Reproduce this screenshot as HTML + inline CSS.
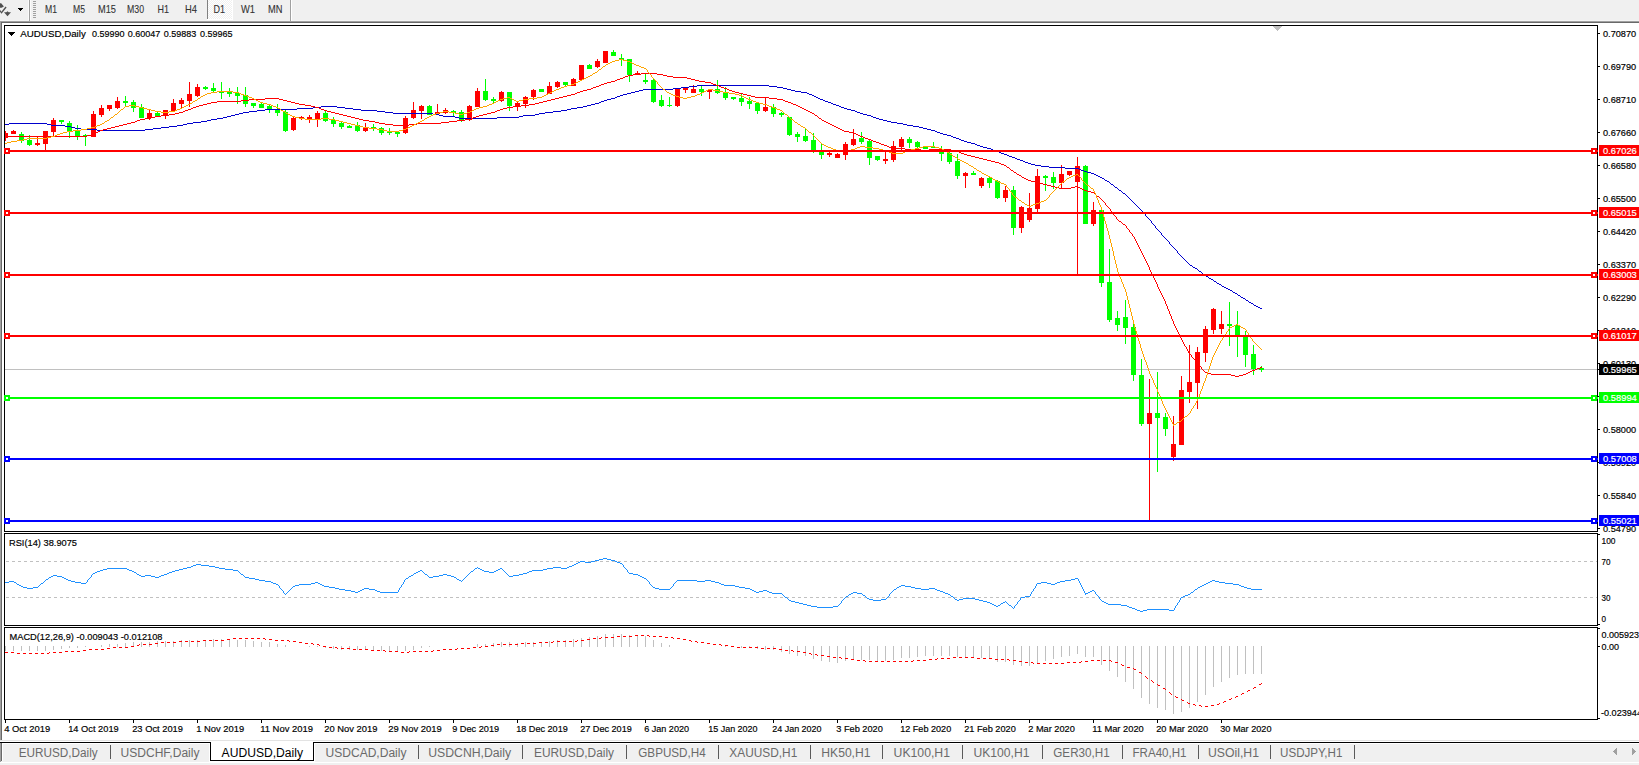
<!DOCTYPE html><html><head><meta charset="utf-8"><title>AUDUSD,Daily</title>
<style>html,body{margin:0;padding:0;background:#fff}body{width:1639px;height:765px;overflow:hidden;position:relative}svg{position:absolute;left:0;top:0;display:block}text{font-family:"Liberation Sans",sans-serif;font-size:9.7px;fill:#000;stroke:#000;stroke-width:.18px}.tb text{font-size:10.3px;fill:#333;stroke:#333;stroke-width:.1px}.tab text{font-size:12.3px;fill:#6a6a6a;stroke:none}.tab text.act{fill:#000}.w text{fill:#fff;stroke:#fff;stroke-width:.2px}</style></head><body>
<svg width="1639" height="765" viewBox="0 0 1639 765">
<g shape-rendering="crispEdges">
<rect x="0" y="0" width="1639" height="765" fill="#fff"/>
<rect x="0" y="0" width="1639" height="21" fill="#f0f0f0"/>
<rect x="0" y="20" width="1639" height="1" fill="#f4f4f4"/>
<rect x="0" y="21" width="1639" height="1" fill="#a0a0a0"/>
<rect x="0" y="22" width="1639" height="1" fill="#696969"/>
<rect x="0" y="21" width="1" height="719" fill="#a0a0a0"/>
<rect x="1" y="22" width="1" height="718" fill="#696969"/>
<rect x="28" y="0" width="1" height="20" fill="#fafafa"/>
<rect x="29" y="0" width="1" height="21" fill="#a0a0a0"/>
<rect x="30" y="0" width="1" height="20" fill="#fafafa"/>
<rect x="207" y="0" width="1" height="19" fill="#808080"/>
<rect x="290" y="0" width="1" height="21" fill="#a0a0a0"/>
<rect x="291" y="0" width="1" height="21" fill="#fff"/>
<rect x="33" y="1" width="3" height="1" fill="#a0a0a0"/>
<rect x="33" y="3" width="3" height="1" fill="#a0a0a0"/>
<rect x="33" y="5" width="3" height="1" fill="#a0a0a0"/>
<rect x="33" y="7" width="3" height="1" fill="#a0a0a0"/>
<rect x="33" y="9" width="3" height="1" fill="#a0a0a0"/>
<rect x="33" y="11" width="3" height="1" fill="#a0a0a0"/>
<rect x="33" y="13" width="3" height="1" fill="#a0a0a0"/>
<rect x="33" y="15" width="3" height="1" fill="#a0a0a0"/>
<rect x="33" y="17" width="3" height="1" fill="#a0a0a0"/>
<pattern id="ck" width="2" height="2" patternUnits="userSpaceOnUse"><rect width="2" height="2" fill="#f0f0f0"/><rect width="1" height="1" fill="#fff"/><rect x="1" y="1" width="1" height="1" fill="#fff"/></pattern>
<rect x="208" y="0" width="24" height="19" fill="url(#ck)"/>
<rect x="207" y="19" width="26" height="1" fill="#fff"/>
<rect x="232" y="0" width="1" height="20" fill="#fff"/>
<rect x="18" y="8" width="5" height="1" fill="#000"/>
<rect x="19" y="9" width="3" height="1" fill="#000"/>
<rect x="20" y="10" width="1" height="1" fill="#000"/>
</g>
<g fill="#505050"><path d="M0 3.2L1.2 3.2L3.9 6.4L1.6 7.7L0 7.7z"/><path d="M0 9.8L1.4 11.7L5.5 6.6L6.6 7.5L1.5 13.7L0 11.8z"/><path d="M4 12.2L6.3 12.2L7.5 11.3L8.7 12.2L11 12.2L7.5 16.2z"/></g>
<g shape-rendering="crispEdges">
<rect x="4" y="25" width="1594" height="1" fill="#000"/>
<rect x="4" y="531" width="1594" height="1" fill="#000"/>
<rect x="4" y="25" width="1" height="507" fill="#000"/>
<rect x="1597" y="25" width="1" height="507" fill="#000"/>
<rect x="4" y="533" width="1594" height="1" fill="#000"/>
<rect x="4" y="625" width="1594" height="1" fill="#000"/>
<rect x="4" y="533" width="1" height="93" fill="#000"/>
<rect x="1597" y="533" width="1" height="93" fill="#000"/>
<rect x="4" y="627" width="1594" height="1" fill="#000"/>
<rect x="4" y="719" width="1594" height="1" fill="#000"/>
<rect x="4" y="627" width="1" height="93" fill="#000"/>
<rect x="1597" y="627" width="1" height="93" fill="#000"/>
<rect x="1598" y="534" width="2" height="1" fill="#000"/>
<rect x="1598" y="624" width="2" height="1" fill="#000"/>
<rect x="1598" y="628" width="2" height="1" fill="#000"/>
<rect x="1598" y="718" width="2" height="1" fill="#000"/>
<rect x="1273" y="26" width="9" height="1" fill="#c0c0c0"/>
<rect x="1274" y="27" width="7" height="1" fill="#c0c0c0"/>
<rect x="1275" y="28" width="5" height="1" fill="#c0c0c0"/>
<rect x="1276" y="29" width="3" height="1" fill="#c0c0c0"/>
<rect x="1277" y="30" width="1" height="1" fill="#c0c0c0"/>
<rect x="1598" y="33" width="2" height="1" fill="#000"/>
<rect x="1598" y="66" width="2" height="1" fill="#000"/>
<rect x="1598" y="99" width="2" height="1" fill="#000"/>
<rect x="1598" y="132" width="2" height="1" fill="#000"/>
<rect x="1598" y="165" width="2" height="1" fill="#000"/>
<rect x="1598" y="198" width="2" height="1" fill="#000"/>
<rect x="1598" y="231" width="2" height="1" fill="#000"/>
<rect x="1598" y="264" width="2" height="1" fill="#000"/>
<rect x="1598" y="297" width="2" height="1" fill="#000"/>
<rect x="1598" y="330" width="2" height="1" fill="#000"/>
<rect x="1598" y="363" width="2" height="1" fill="#000"/>
<rect x="1598" y="396" width="2" height="1" fill="#000"/>
<rect x="1598" y="429" width="2" height="1" fill="#000"/>
<rect x="1598" y="462" width="2" height="1" fill="#000"/>
<rect x="1598" y="495" width="2" height="1" fill="#000"/>
<rect x="1598" y="528" width="2" height="1" fill="#000"/>
<path d="M6 561.5H1597M6 597.5H1597" stroke="#c0c0c0" stroke-width="1" stroke-dasharray="3 3" fill="none"/>
<rect x="1598" y="646" width="2" height="1" fill="#000"/>
<rect x="5" y="720" width="1" height="3" fill="#000"/>
<rect x="69" y="720" width="1" height="3" fill="#000"/>
<rect x="133" y="720" width="1" height="3" fill="#000"/>
<rect x="197" y="720" width="1" height="3" fill="#000"/>
<rect x="261" y="720" width="1" height="3" fill="#000"/>
<rect x="325" y="720" width="1" height="3" fill="#000"/>
<rect x="389" y="720" width="1" height="3" fill="#000"/>
<rect x="453" y="720" width="1" height="3" fill="#000"/>
<rect x="517" y="720" width="1" height="3" fill="#000"/>
<rect x="581" y="720" width="1" height="3" fill="#000"/>
<rect x="645" y="720" width="1" height="3" fill="#000"/>
<rect x="709" y="720" width="1" height="3" fill="#000"/>
<rect x="773" y="720" width="1" height="3" fill="#000"/>
<rect x="837" y="720" width="1" height="3" fill="#000"/>
<rect x="901" y="720" width="1" height="3" fill="#000"/>
<rect x="965" y="720" width="1" height="3" fill="#000"/>
<rect x="1029" y="720" width="1" height="3" fill="#000"/>
<rect x="1093" y="720" width="1" height="3" fill="#000"/>
<rect x="1157" y="720" width="1" height="3" fill="#000"/>
<rect x="1221" y="720" width="1" height="3" fill="#000"/>
</g>
<defs><clipPath id="c"><rect x="5" y="26" width="1592" height="505"/></clipPath></defs>
<g shape-rendering="crispEdges" clip-path="url(#c)">
<rect x="5" y="369" width="1592" height="1" fill="#c0c0c0"/>
<rect x="5" y="131" width="1" height="10" fill="#ff0000"/>
<rect x="3" y="133" width="5" height="5" fill="#ff0000"/>
<rect x="13" y="130" width="1" height="4" fill="#ff0000"/>
<rect x="11" y="131" width="5" height="3" fill="#ff0000"/>
<rect x="21" y="132" width="1" height="11" fill="#00ff00"/>
<rect x="19" y="134" width="5" height="7" fill="#00ff00"/>
<rect x="29" y="135" width="1" height="11" fill="#00ff00"/>
<rect x="27" y="140" width="5" height="5" fill="#00ff00"/>
<rect x="37" y="137" width="1" height="9" fill="#ff0000"/>
<rect x="35" y="143" width="5" height="2" fill="#ff0000"/>
<rect x="45" y="131" width="1" height="20" fill="#ff0000"/>
<rect x="43" y="131" width="5" height="13" fill="#ff0000"/>
<rect x="53" y="118" width="1" height="18" fill="#ff0000"/>
<rect x="51" y="120" width="5" height="12" fill="#ff0000"/>
<rect x="61" y="120" width="1" height="4" fill="#00ff00"/>
<rect x="59" y="120" width="5" height="2" fill="#00ff00"/>
<rect x="69" y="121" width="1" height="17" fill="#00ff00"/>
<rect x="67" y="123" width="5" height="9" fill="#00ff00"/>
<rect x="77" y="125" width="1" height="15" fill="#00ff00"/>
<rect x="75" y="131" width="5" height="5" fill="#00ff00"/>
<rect x="85" y="134" width="1" height="12" fill="#00ff00"/>
<rect x="83" y="135" width="5" height="1" fill="#00ff00"/>
<rect x="93" y="111" width="1" height="26" fill="#ff0000"/>
<rect x="91" y="114" width="5" height="23" fill="#ff0000"/>
<rect x="101" y="105" width="1" height="12" fill="#ff0000"/>
<rect x="99" y="108" width="5" height="7" fill="#ff0000"/>
<rect x="109" y="105" width="1" height="6" fill="#ff0000"/>
<rect x="107" y="105" width="5" height="4" fill="#ff0000"/>
<rect x="117" y="97" width="1" height="12" fill="#ff0000"/>
<rect x="115" y="101" width="5" height="7" fill="#ff0000"/>
<rect x="125" y="96" width="1" height="10" fill="#00ff00"/>
<rect x="123" y="101" width="5" height="2" fill="#00ff00"/>
<rect x="133" y="100" width="1" height="12" fill="#00ff00"/>
<rect x="131" y="102" width="5" height="6" fill="#00ff00"/>
<rect x="141" y="104" width="1" height="14" fill="#00ff00"/>
<rect x="139" y="107" width="5" height="11" fill="#00ff00"/>
<rect x="149" y="110" width="1" height="10" fill="#ff0000"/>
<rect x="147" y="113" width="5" height="5" fill="#ff0000"/>
<rect x="157" y="112" width="1" height="4" fill="#00ff00"/>
<rect x="155" y="113" width="5" height="3" fill="#00ff00"/>
<rect x="165" y="110" width="1" height="9" fill="#ff0000"/>
<rect x="163" y="110" width="5" height="5" fill="#ff0000"/>
<rect x="173" y="99" width="1" height="12" fill="#ff0000"/>
<rect x="171" y="103" width="5" height="8" fill="#ff0000"/>
<rect x="181" y="98" width="1" height="10" fill="#ff0000"/>
<rect x="179" y="100" width="5" height="4" fill="#ff0000"/>
<rect x="189" y="82" width="1" height="25" fill="#ff0000"/>
<rect x="187" y="94" width="5" height="7" fill="#ff0000"/>
<rect x="197" y="84" width="1" height="13" fill="#ff0000"/>
<rect x="195" y="87" width="5" height="9" fill="#ff0000"/>
<rect x="205" y="86" width="1" height="4" fill="#00ff00"/>
<rect x="203" y="87" width="5" height="2" fill="#00ff00"/>
<rect x="213" y="83" width="1" height="9" fill="#00ff00"/>
<rect x="211" y="88" width="5" height="3" fill="#00ff00"/>
<rect x="221" y="82" width="1" height="17" fill="#00ff00"/>
<rect x="219" y="91" width="5" height="2" fill="#00ff00"/>
<rect x="229" y="88" width="1" height="9" fill="#00ff00"/>
<rect x="227" y="91" width="5" height="3" fill="#00ff00"/>
<rect x="237" y="87" width="1" height="17" fill="#00ff00"/>
<rect x="235" y="93" width="5" height="3" fill="#00ff00"/>
<rect x="245" y="87" width="1" height="20" fill="#00ff00"/>
<rect x="243" y="95" width="5" height="9" fill="#00ff00"/>
<rect x="253" y="103" width="1" height="5" fill="#00ff00"/>
<rect x="251" y="103" width="5" height="3" fill="#00ff00"/>
<rect x="261" y="102" width="1" height="6" fill="#00ff00"/>
<rect x="259" y="104" width="5" height="4" fill="#00ff00"/>
<rect x="269" y="104" width="1" height="9" fill="#00ff00"/>
<rect x="267" y="106" width="5" height="3" fill="#00ff00"/>
<rect x="277" y="104" width="1" height="12" fill="#00ff00"/>
<rect x="275" y="109" width="5" height="4" fill="#00ff00"/>
<rect x="285" y="109" width="1" height="23" fill="#00ff00"/>
<rect x="283" y="112" width="5" height="19" fill="#00ff00"/>
<rect x="293" y="117" width="1" height="14" fill="#ff0000"/>
<rect x="291" y="118" width="5" height="12" fill="#ff0000"/>
<rect x="301" y="116" width="1" height="4" fill="#ff0000"/>
<rect x="299" y="117" width="5" height="2" fill="#ff0000"/>
<rect x="309" y="115" width="1" height="8" fill="#ff0000"/>
<rect x="307" y="117" width="5" height="2" fill="#ff0000"/>
<rect x="317" y="111" width="1" height="16" fill="#ff0000"/>
<rect x="315" y="113" width="5" height="6" fill="#ff0000"/>
<rect x="325" y="111" width="1" height="11" fill="#00ff00"/>
<rect x="323" y="113" width="5" height="8" fill="#00ff00"/>
<rect x="333" y="117" width="1" height="10" fill="#00ff00"/>
<rect x="331" y="120" width="5" height="4" fill="#00ff00"/>
<rect x="341" y="121" width="1" height="8" fill="#00ff00"/>
<rect x="339" y="123" width="5" height="4" fill="#00ff00"/>
<rect x="349" y="125" width="1" height="3" fill="#00ff00"/>
<rect x="347" y="126" width="5" height="2" fill="#00ff00"/>
<rect x="357" y="122" width="1" height="10" fill="#00ff00"/>
<rect x="355" y="125" width="5" height="6" fill="#00ff00"/>
<rect x="365" y="123" width="1" height="9" fill="#ff0000"/>
<rect x="363" y="127" width="5" height="4" fill="#ff0000"/>
<rect x="373" y="124" width="1" height="7" fill="#00ff00"/>
<rect x="371" y="127" width="5" height="2" fill="#00ff00"/>
<rect x="381" y="127" width="1" height="8" fill="#00ff00"/>
<rect x="379" y="128" width="5" height="5" fill="#00ff00"/>
<rect x="389" y="128" width="1" height="7" fill="#00ff00"/>
<rect x="387" y="132" width="5" height="1" fill="#00ff00"/>
<rect x="397" y="132" width="1" height="5" fill="#00ff00"/>
<rect x="395" y="132" width="5" height="2" fill="#00ff00"/>
<rect x="405" y="116" width="1" height="18" fill="#ff0000"/>
<rect x="403" y="118" width="5" height="15" fill="#ff0000"/>
<rect x="413" y="102" width="1" height="17" fill="#ff0000"/>
<rect x="411" y="110" width="5" height="8" fill="#ff0000"/>
<rect x="421" y="105" width="1" height="14" fill="#ff0000"/>
<rect x="419" y="106" width="5" height="5" fill="#ff0000"/>
<rect x="429" y="105" width="1" height="10" fill="#00ff00"/>
<rect x="427" y="106" width="5" height="9" fill="#00ff00"/>
<rect x="437" y="104" width="1" height="10" fill="#ff0000"/>
<rect x="435" y="112" width="5" height="2" fill="#ff0000"/>
<rect x="445" y="108" width="1" height="6" fill="#ff0000"/>
<rect x="443" y="110" width="5" height="3" fill="#ff0000"/>
<rect x="453" y="110" width="1" height="6" fill="#00ff00"/>
<rect x="451" y="111" width="5" height="2" fill="#00ff00"/>
<rect x="461" y="110" width="1" height="12" fill="#00ff00"/>
<rect x="459" y="112" width="5" height="8" fill="#00ff00"/>
<rect x="469" y="105" width="1" height="16" fill="#ff0000"/>
<rect x="467" y="106" width="5" height="14" fill="#ff0000"/>
<rect x="477" y="88" width="1" height="19" fill="#ff0000"/>
<rect x="475" y="91" width="5" height="16" fill="#ff0000"/>
<rect x="485" y="79" width="1" height="22" fill="#00ff00"/>
<rect x="483" y="91" width="5" height="9" fill="#00ff00"/>
<rect x="493" y="97" width="1" height="6" fill="#00ff00"/>
<rect x="491" y="99" width="5" height="2" fill="#00ff00"/>
<rect x="501" y="91" width="1" height="11" fill="#ff0000"/>
<rect x="499" y="92" width="5" height="9" fill="#ff0000"/>
<rect x="509" y="92" width="1" height="19" fill="#00ff00"/>
<rect x="507" y="92" width="5" height="14" fill="#00ff00"/>
<rect x="517" y="102" width="1" height="9" fill="#ff0000"/>
<rect x="515" y="103" width="5" height="4" fill="#ff0000"/>
<rect x="525" y="96" width="1" height="12" fill="#ff0000"/>
<rect x="523" y="97" width="5" height="7" fill="#ff0000"/>
<rect x="533" y="89" width="1" height="11" fill="#ff0000"/>
<rect x="531" y="90" width="5" height="7" fill="#ff0000"/>
<rect x="541" y="89" width="1" height="3" fill="#00ff00"/>
<rect x="539" y="89" width="5" height="3" fill="#00ff00"/>
<rect x="549" y="82" width="1" height="12" fill="#ff0000"/>
<rect x="547" y="86" width="5" height="8" fill="#ff0000"/>
<rect x="557" y="81" width="1" height="7" fill="#ff0000"/>
<rect x="555" y="82" width="5" height="5" fill="#ff0000"/>
<rect x="565" y="82" width="1" height="4" fill="#00ff00"/>
<rect x="563" y="82" width="5" height="3" fill="#00ff00"/>
<rect x="573" y="78" width="1" height="8" fill="#ff0000"/>
<rect x="571" y="79" width="5" height="7" fill="#ff0000"/>
<rect x="581" y="65" width="1" height="16" fill="#ff0000"/>
<rect x="579" y="65" width="5" height="15" fill="#ff0000"/>
<rect x="589" y="64" width="1" height="5" fill="#00ff00"/>
<rect x="587" y="65" width="5" height="4" fill="#00ff00"/>
<rect x="597" y="59" width="1" height="9" fill="#ff0000"/>
<rect x="595" y="61" width="5" height="6" fill="#ff0000"/>
<rect x="605" y="51" width="1" height="12" fill="#ff0000"/>
<rect x="603" y="51" width="5" height="12" fill="#ff0000"/>
<rect x="613" y="50" width="1" height="6" fill="#00ff00"/>
<rect x="611" y="52" width="5" height="4" fill="#00ff00"/>
<rect x="621" y="54" width="1" height="12" fill="#00ff00"/>
<rect x="619" y="58" width="5" height="2" fill="#00ff00"/>
<rect x="629" y="59" width="1" height="23" fill="#00ff00"/>
<rect x="627" y="59" width="5" height="16" fill="#00ff00"/>
<rect x="637" y="71" width="1" height="4" fill="#ff0000"/>
<rect x="635" y="73" width="5" height="2" fill="#ff0000"/>
<rect x="645" y="73" width="1" height="11" fill="#00ff00"/>
<rect x="643" y="80" width="5" height="2" fill="#00ff00"/>
<rect x="653" y="79" width="1" height="24" fill="#00ff00"/>
<rect x="651" y="80" width="5" height="22" fill="#00ff00"/>
<rect x="661" y="95" width="1" height="12" fill="#00ff00"/>
<rect x="659" y="100" width="5" height="6" fill="#00ff00"/>
<rect x="669" y="97" width="1" height="10" fill="#00ff00"/>
<rect x="667" y="105" width="5" height="1" fill="#00ff00"/>
<rect x="677" y="89" width="1" height="18" fill="#ff0000"/>
<rect x="675" y="89" width="5" height="17" fill="#ff0000"/>
<rect x="685" y="88" width="1" height="5" fill="#ff0000"/>
<rect x="683" y="88" width="5" height="2" fill="#ff0000"/>
<rect x="693" y="85" width="1" height="8" fill="#ff0000"/>
<rect x="691" y="89" width="5" height="4" fill="#ff0000"/>
<rect x="701" y="86" width="1" height="10" fill="#00ff00"/>
<rect x="699" y="89" width="5" height="3" fill="#00ff00"/>
<rect x="709" y="90" width="1" height="9" fill="#ff0000"/>
<rect x="707" y="90" width="5" height="2" fill="#ff0000"/>
<rect x="717" y="80" width="1" height="14" fill="#00ff00"/>
<rect x="715" y="89" width="5" height="4" fill="#00ff00"/>
<rect x="725" y="87" width="1" height="13" fill="#00ff00"/>
<rect x="723" y="92" width="5" height="6" fill="#00ff00"/>
<rect x="733" y="97" width="1" height="3" fill="#00ff00"/>
<rect x="731" y="97" width="5" height="2" fill="#00ff00"/>
<rect x="741" y="94" width="1" height="12" fill="#00ff00"/>
<rect x="739" y="98" width="5" height="4" fill="#00ff00"/>
<rect x="749" y="97" width="1" height="12" fill="#00ff00"/>
<rect x="747" y="101" width="5" height="3" fill="#00ff00"/>
<rect x="757" y="102" width="1" height="12" fill="#00ff00"/>
<rect x="755" y="103" width="5" height="8" fill="#00ff00"/>
<rect x="765" y="97" width="1" height="15" fill="#ff0000"/>
<rect x="763" y="107" width="5" height="4" fill="#ff0000"/>
<rect x="773" y="104" width="1" height="13" fill="#00ff00"/>
<rect x="771" y="107" width="5" height="7" fill="#00ff00"/>
<rect x="781" y="112" width="1" height="5" fill="#00ff00"/>
<rect x="779" y="113" width="5" height="2" fill="#00ff00"/>
<rect x="789" y="117" width="1" height="19" fill="#00ff00"/>
<rect x="787" y="117" width="5" height="18" fill="#00ff00"/>
<rect x="797" y="132" width="1" height="10" fill="#00ff00"/>
<rect x="795" y="134" width="5" height="3" fill="#00ff00"/>
<rect x="805" y="129" width="1" height="13" fill="#00ff00"/>
<rect x="803" y="136" width="5" height="5" fill="#00ff00"/>
<rect x="813" y="133" width="1" height="20" fill="#00ff00"/>
<rect x="811" y="140" width="5" height="11" fill="#00ff00"/>
<rect x="821" y="144" width="1" height="15" fill="#00ff00"/>
<rect x="819" y="151" width="5" height="4" fill="#00ff00"/>
<rect x="829" y="152" width="1" height="5" fill="#ff0000"/>
<rect x="827" y="153" width="5" height="2" fill="#ff0000"/>
<rect x="837" y="153" width="1" height="5" fill="#ff0000"/>
<rect x="835" y="154" width="5" height="4" fill="#ff0000"/>
<rect x="845" y="142" width="1" height="18" fill="#ff0000"/>
<rect x="843" y="144" width="5" height="11" fill="#ff0000"/>
<rect x="853" y="129" width="1" height="17" fill="#ff0000"/>
<rect x="851" y="139" width="5" height="6" fill="#ff0000"/>
<rect x="861" y="132" width="1" height="12" fill="#00ff00"/>
<rect x="859" y="138" width="5" height="4" fill="#00ff00"/>
<rect x="869" y="139" width="1" height="26" fill="#00ff00"/>
<rect x="867" y="141" width="5" height="17" fill="#00ff00"/>
<rect x="877" y="156" width="1" height="5" fill="#00ff00"/>
<rect x="875" y="156" width="5" height="4" fill="#00ff00"/>
<rect x="885" y="152" width="1" height="12" fill="#ff0000"/>
<rect x="883" y="159" width="5" height="2" fill="#ff0000"/>
<rect x="893" y="141" width="1" height="21" fill="#ff0000"/>
<rect x="891" y="146" width="5" height="14" fill="#ff0000"/>
<rect x="901" y="137" width="1" height="13" fill="#ff0000"/>
<rect x="899" y="139" width="5" height="8" fill="#ff0000"/>
<rect x="909" y="137" width="1" height="11" fill="#00ff00"/>
<rect x="907" y="139" width="5" height="4" fill="#00ff00"/>
<rect x="917" y="141" width="1" height="8" fill="#00ff00"/>
<rect x="915" y="142" width="5" height="5" fill="#00ff00"/>
<rect x="925" y="146" width="1" height="3" fill="#00ff00"/>
<rect x="923" y="147" width="5" height="2" fill="#00ff00"/>
<rect x="933" y="142" width="1" height="6" fill="#00ff00"/>
<rect x="931" y="147" width="5" height="1" fill="#00ff00"/>
<rect x="941" y="146" width="1" height="15" fill="#00ff00"/>
<rect x="939" y="149" width="5" height="5" fill="#00ff00"/>
<rect x="949" y="152" width="1" height="12" fill="#00ff00"/>
<rect x="947" y="153" width="5" height="9" fill="#00ff00"/>
<rect x="957" y="154" width="1" height="25" fill="#00ff00"/>
<rect x="955" y="161" width="5" height="15" fill="#00ff00"/>
<rect x="965" y="172" width="1" height="16" fill="#ff0000"/>
<rect x="963" y="173" width="5" height="3" fill="#ff0000"/>
<rect x="973" y="171" width="1" height="4" fill="#00ff00"/>
<rect x="971" y="173" width="5" height="2" fill="#00ff00"/>
<rect x="981" y="177" width="1" height="11" fill="#ff0000"/>
<rect x="979" y="178" width="5" height="8" fill="#ff0000"/>
<rect x="989" y="177" width="1" height="11" fill="#00ff00"/>
<rect x="987" y="178" width="5" height="5" fill="#00ff00"/>
<rect x="997" y="180" width="1" height="19" fill="#00ff00"/>
<rect x="995" y="181" width="5" height="17" fill="#00ff00"/>
<rect x="1005" y="186" width="1" height="16" fill="#ff0000"/>
<rect x="1003" y="190" width="5" height="8" fill="#ff0000"/>
<rect x="1013" y="186" width="1" height="49" fill="#00ff00"/>
<rect x="1011" y="190" width="5" height="38" fill="#00ff00"/>
<rect x="1021" y="206" width="1" height="27" fill="#ff0000"/>
<rect x="1019" y="207" width="5" height="21" fill="#ff0000"/>
<rect x="1029" y="193" width="1" height="29" fill="#ff0000"/>
<rect x="1027" y="208" width="5" height="12" fill="#ff0000"/>
<rect x="1037" y="169" width="1" height="43" fill="#ff0000"/>
<rect x="1035" y="176" width="5" height="33" fill="#ff0000"/>
<rect x="1045" y="175" width="1" height="16" fill="#00ff00"/>
<rect x="1043" y="176" width="5" height="2" fill="#00ff00"/>
<rect x="1053" y="172" width="1" height="17" fill="#00ff00"/>
<rect x="1051" y="177" width="5" height="6" fill="#00ff00"/>
<rect x="1061" y="165" width="1" height="24" fill="#ff0000"/>
<rect x="1059" y="174" width="5" height="9" fill="#ff0000"/>
<rect x="1069" y="171" width="1" height="5" fill="#ff0000"/>
<rect x="1067" y="171" width="5" height="4" fill="#ff0000"/>
<rect x="1077" y="157" width="1" height="117" fill="#ff0000"/>
<rect x="1075" y="166" width="5" height="16" fill="#ff0000"/>
<rect x="1085" y="165" width="1" height="59" fill="#00ff00"/>
<rect x="1083" y="166" width="5" height="58" fill="#00ff00"/>
<rect x="1093" y="202" width="1" height="24" fill="#ff0000"/>
<rect x="1091" y="210" width="5" height="14" fill="#ff0000"/>
<rect x="1101" y="207" width="1" height="80" fill="#00ff00"/>
<rect x="1099" y="210" width="5" height="73" fill="#00ff00"/>
<rect x="1109" y="249" width="1" height="73" fill="#00ff00"/>
<rect x="1107" y="282" width="5" height="38" fill="#00ff00"/>
<rect x="1117" y="311" width="1" height="20" fill="#00ff00"/>
<rect x="1115" y="318" width="5" height="7" fill="#00ff00"/>
<rect x="1125" y="300" width="1" height="44" fill="#00ff00"/>
<rect x="1123" y="317" width="5" height="11" fill="#00ff00"/>
<rect x="1133" y="322" width="1" height="59" fill="#00ff00"/>
<rect x="1131" y="327" width="5" height="48" fill="#00ff00"/>
<rect x="1141" y="359" width="1" height="67" fill="#00ff00"/>
<rect x="1139" y="375" width="5" height="49" fill="#00ff00"/>
<rect x="1149" y="379" width="1" height="142" fill="#ff0000"/>
<rect x="1147" y="413" width="5" height="11" fill="#ff0000"/>
<rect x="1157" y="372" width="1" height="100" fill="#00ff00"/>
<rect x="1155" y="413" width="5" height="5" fill="#00ff00"/>
<rect x="1165" y="413" width="1" height="23" fill="#00ff00"/>
<rect x="1163" y="417" width="5" height="12" fill="#00ff00"/>
<rect x="1173" y="416" width="1" height="45" fill="#ff0000"/>
<rect x="1171" y="444" width="5" height="13" fill="#ff0000"/>
<rect x="1181" y="376" width="1" height="69" fill="#ff0000"/>
<rect x="1179" y="390" width="5" height="55" fill="#ff0000"/>
<rect x="1189" y="345" width="1" height="58" fill="#ff0000"/>
<rect x="1187" y="382" width="5" height="10" fill="#ff0000"/>
<rect x="1197" y="347" width="1" height="62" fill="#ff0000"/>
<rect x="1195" y="352" width="5" height="31" fill="#ff0000"/>
<rect x="1205" y="326" width="1" height="36" fill="#ff0000"/>
<rect x="1203" y="329" width="5" height="24" fill="#ff0000"/>
<rect x="1213" y="308" width="1" height="26" fill="#ff0000"/>
<rect x="1211" y="309" width="5" height="21" fill="#ff0000"/>
<rect x="1221" y="311" width="1" height="23" fill="#ff0000"/>
<rect x="1219" y="324" width="5" height="5" fill="#ff0000"/>
<rect x="1229" y="302" width="1" height="44" fill="#00ff00"/>
<rect x="1227" y="324" width="5" height="2" fill="#00ff00"/>
<rect x="1237" y="311" width="1" height="46" fill="#00ff00"/>
<rect x="1235" y="325" width="5" height="12" fill="#00ff00"/>
<rect x="1245" y="331" width="1" height="36" fill="#00ff00"/>
<rect x="1243" y="335" width="5" height="20" fill="#00ff00"/>
<rect x="1253" y="345" width="1" height="30" fill="#00ff00"/>
<rect x="1251" y="354" width="5" height="15" fill="#00ff00"/>
<rect x="1261" y="366" width="1" height="6" fill="#00ff00"/>
<rect x="1259" y="368" width="5" height="2" fill="#00ff00"/>
<path d="M5 124h4v1h-4zM9 123h38v1h-38zM47 124h4v1h-4zM51 125h14v1h-14zM65 126h6v1h-6zM71 127h4v1h-4zM75 128h6v1h-6zM81 129h16v1h-16zM97 130h48v1h-48zM145 129h8v1h-8zM153 128h8v1h-8zM161 127h8v1h-8zM169 126h8v1h-8zM177 125h6v1h-6zM183 124h4v1h-4zM187 123h6v1h-6zM193 122h8v1h-8zM201 121h6v1h-6zM207 120h4v1h-4zM211 119h6v1h-6zM217 118h6v1h-6zM223 117h4v1h-4zM227 116h4v1h-4zM231 115h4v1h-4zM235 114h4v1h-4zM239 113h4v1h-4zM243 112h6v1h-6zM249 111h8v1h-8zM257 110h8v1h-8zM265 109h32v1h-32zM297 108h16v1h-16zM313 107h8v1h-8zM321 106h16v1h-16zM337 107h8v1h-8zM345 108h8v1h-8zM353 109h8v1h-8zM361 110h16v1h-16zM377 111h8v1h-8zM385 112h8v1h-8zM393 113h40v1h-40zM433 114h6v1h-6zM439 115h4v1h-4zM443 116h12v1h-12zM455 117h4v1h-4zM459 118h38v1h-38zM497 117h22v1h-22zM519 116h4v1h-4zM523 115h12v1h-12zM535 114h4v1h-4zM539 113h6v1h-6zM545 112h8v1h-8zM553 111h8v1h-8zM561 110h6v1h-6zM567 109h4v1h-4zM571 108h6v1h-6zM577 107h6v1h-6zM583 106h4v1h-4zM587 105h4v1h-4zM591 104h4v1h-4zM595 103h4v1h-4zM599 102h2v1h-2zM601 101h3v1h-3zM604 100h3v1h-3zM607 99h4v1h-4zM611 98h4v1h-4zM615 97h2v1h-2zM617 96h3v1h-3zM620 95h3v1h-3zM623 94h4v1h-4zM627 93h4v1h-4zM631 92h4v1h-4zM635 91h4v1h-4zM639 90h4v1h-4zM643 89h30v1h-30zM673 88h8v1h-8zM681 87h8v1h-8zM689 86h8v1h-8zM697 85h72v1h-72zM769 86h8v1h-8zM777 87h6v1h-6zM783 88h4v1h-4zM787 89h4v1h-4zM791 90h4v1h-4zM795 91h6v1h-6zM801 92h6v1h-6zM807 93h2v1h-2zM809 94h3v1h-3zM812 95h2v1h-2zM814 96h2v1h-2zM816 97h2v1h-2zM818 98h2v1h-2zM820 99h3v1h-3zM823 100h2v1h-2zM825 101h3v1h-3zM828 102h3v1h-3zM831 103h2v1h-2zM833 104h3v1h-3zM836 105h3v1h-3zM839 106h2v1h-2zM841 107h3v1h-3zM844 108h3v1h-3zM847 109h4v1h-4zM851 110h4v1h-4zM855 111h2v1h-2zM857 112h3v1h-3zM860 113h3v1h-3zM863 114h4v1h-4zM867 115h4v1h-4zM871 116h2v1h-2zM873 117h3v1h-3zM876 118h3v1h-3zM879 119h4v1h-4zM883 120h4v1h-4zM887 121h4v1h-4zM891 122h6v1h-6zM897 123h6v1h-6zM903 124h4v1h-4zM907 125h6v1h-6zM913 126h6v1h-6zM919 127h4v1h-4zM923 128h4v1h-4zM927 129h4v1h-4zM931 130h4v1h-4zM935 131h2v1h-2zM937 132h3v1h-3zM940 133h3v1h-3zM943 134h4v1h-4zM947 135h4v1h-4zM951 136h2v1h-2zM953 137h3v1h-3zM956 138h3v1h-3zM959 139h2v1h-2zM961 140h3v1h-3zM964 141h3v1h-3zM967 142h4v1h-4zM971 143h4v1h-4zM975 144h2v1h-2zM977 145h3v1h-3zM980 146h3v1h-3zM983 147h4v1h-4zM987 148h4v1h-4zM991 149h2v1h-2zM993 150h3v1h-3zM996 151h3v1h-3zM999 152h2v1h-2zM1001 153h3v1h-3zM1004 154h3v1h-3zM1007 155h2v1h-2zM1009 156h3v1h-3zM1012 157h3v1h-3zM1015 158h2v1h-2zM1017 159h3v1h-3zM1020 160h3v1h-3zM1023 161h2v1h-2zM1025 162h3v1h-3zM1028 163h3v1h-3zM1031 164h4v1h-4zM1035 165h6v1h-6zM1041 166h8v1h-8zM1049 167h16v1h-16zM1065 168h14v1h-14zM1079 169h2v1h-2zM1081 170h3v1h-3zM1084 171h3v1h-3zM1087 172h4v1h-4zM1091 173h3v1h-3zM1094 174h2v1h-2zM1096 175h2v1h-2zM1098 176h2v1h-2zM1100 177h2v1h-2zM1102 178h2v1h-2zM1104 179h1v1h-1zM1105 180h2v1h-2zM1107 181h2v1h-2zM1109 182h1v1h-1zM1110 183h1v1h-1zM1111 184h2v1h-2zM1113 185h1v1h-1zM1114 186h1v1h-1zM1115 187h2v1h-2zM1117 188h1v1h-1zM1118 189h1v1h-1zM1119 190h2v1h-2zM1121 191h1v1h-1zM1122 192h1v1h-1zM1123 193h2v1h-2zM1125 194h1v1h-1zM1126 195h1v1h-1zM1127 196h1v1h-1zM1128 197h1v1h-1zM1129 198h1v1h-1zM1130 199h1v1h-1zM1131 200h1v1h-1zM1132 201h1v1h-1zM1133 202h1v1h-1zM1134 203h1v1h-1zM1135 204h1v1h-1zM1136 205h1v1h-1zM1137 206h1v1h-1zM1138 207h1v1h-1zM1139 208h1v1h-1zM1140 209h1v1h-1zM1141 210h1v1h-1zM1142 211h1v1h-1zM1143 212h1v1h-1zM1144 213h1v1h-1zM1145 214h1v1h-1zM1145 215h1v1h-1zM1146 216h1v1h-1zM1147 217h1v1h-1zM1148 218h1v1h-1zM1149 219h1v1h-1zM1150 220h1v1h-1zM1151 221h1v1h-1zM1151 222h1v1h-1zM1152 223h1v1h-1zM1153 224h1v1h-1zM1154 225h1v1h-1zM1155 226h1v1h-1zM1155 227h1v1h-1zM1156 228h1v1h-1zM1157 229h1v1h-1zM1158 230h1v1h-1zM1159 231h1v1h-1zM1160 232h1v1h-1zM1161 233h1v1h-1zM1161 234h1v1h-1zM1162 235h1v1h-1zM1163 236h1v1h-1zM1164 237h1v1h-1zM1165 238h1v1h-1zM1166 239h1v1h-1zM1167 240h1v1h-1zM1168 241h1v1h-1zM1169 242h1v1h-1zM1169 243h1v1h-1zM1170 244h1v1h-1zM1171 245h1v1h-1zM1172 246h1v1h-1zM1173 247h1v1h-1zM1174 248h1v1h-1zM1175 249h1v1h-1zM1176 250h1v1h-1zM1177 251h1v1h-1zM1177 252h1v1h-1zM1178 253h1v1h-1zM1179 254h1v1h-1zM1180 255h1v1h-1zM1181 256h1v1h-1zM1182 257h1v1h-1zM1183 258h1v1h-1zM1184 259h1v1h-1zM1185 260h1v1h-1zM1186 261h1v1h-1zM1187 262h1v1h-1zM1188 263h1v1h-1zM1189 264h1v1h-1zM1190 265h2v1h-2zM1192 266h1v1h-1zM1193 267h2v1h-2zM1195 268h2v1h-2zM1197 269h1v1h-1zM1198 270h1v1h-1zM1199 271h2v1h-2zM1201 272h1v1h-1zM1202 273h1v1h-1zM1203 274h2v1h-2zM1205 275h1v1h-1zM1206 276h2v1h-2zM1208 277h1v1h-1zM1209 278h2v1h-2zM1211 279h2v1h-2zM1213 280h1v1h-1zM1214 281h2v1h-2zM1216 282h1v1h-1zM1217 283h2v1h-2zM1219 284h2v1h-2zM1221 285h1v1h-1zM1222 286h2v1h-2zM1224 287h2v1h-2zM1226 288h2v1h-2zM1228 289h2v1h-2zM1230 290h2v1h-2zM1232 291h1v1h-1zM1233 292h2v1h-2zM1235 293h2v1h-2zM1237 294h1v1h-1zM1238 295h2v1h-2zM1240 296h1v1h-1zM1241 297h2v1h-2zM1243 298h2v1h-2zM1245 299h1v1h-1zM1246 300h2v1h-2zM1248 301h1v1h-1zM1249 302h2v1h-2zM1251 303h2v1h-2zM1253 304h1v1h-1zM1254 305h2v1h-2zM1256 306h2v1h-2zM1258 307h2v1h-2zM1260 308h2v1h-2z" fill="#0000cd"/>
<path d="M5 136h82v1h-82zM87 135h4v1h-4zM91 134h3v1h-3zM94 133h2v1h-2zM96 132h2v1h-2zM98 131h2v1h-2zM100 130h3v1h-3zM103 129h4v1h-4zM107 128h4v1h-4zM111 127h4v1h-4zM115 126h4v1h-4zM119 125h4v1h-4zM123 124h4v1h-4zM127 123h4v1h-4zM131 122h4v1h-4zM135 121h2v1h-2zM137 120h3v1h-3zM140 119h5v1h-5zM145 118h6v1h-6zM151 117h4v1h-4zM155 116h6v1h-6zM161 115h8v1h-8zM169 114h6v1h-6zM175 113h4v1h-4zM179 112h4v1h-4zM183 111h2v1h-2zM185 110h3v1h-3zM188 109h3v1h-3zM191 108h2v1h-2zM193 107h3v1h-3zM196 106h3v1h-3zM199 105h4v1h-4zM203 104h4v1h-4zM207 103h4v1h-4zM211 102h6v1h-6zM217 101h24v1h-24zM241 100h8v1h-8zM249 99h16v1h-16zM265 98h14v1h-14zM279 99h4v1h-4zM283 100h4v1h-4zM287 101h4v1h-4zM291 102h4v1h-4zM295 103h4v1h-4zM299 104h6v1h-6zM305 105h6v1h-6zM311 106h4v1h-4zM315 107h4v1h-4zM319 108h2v1h-2zM321 109h3v1h-3zM324 110h3v1h-3zM327 111h4v1h-4zM331 112h4v1h-4zM335 113h4v1h-4zM339 114h4v1h-4zM343 115h4v1h-4zM347 116h4v1h-4zM351 117h4v1h-4zM355 118h4v1h-4zM359 119h4v1h-4zM363 120h6v1h-6zM369 121h6v1h-6zM375 122h4v1h-4zM379 123h6v1h-6zM385 124h8v1h-8zM393 125h16v1h-16zM409 124h8v1h-8zM417 123h24v1h-24zM441 122h8v1h-8zM449 121h8v1h-8zM457 120h8v1h-8zM465 119h6v1h-6zM471 118h2v1h-2zM473 117h3v1h-3zM476 116h3v1h-3zM479 115h4v1h-4zM483 114h4v1h-4zM487 113h4v1h-4zM491 112h4v1h-4zM495 111h2v1h-2zM497 110h3v1h-3zM500 109h3v1h-3zM503 108h4v1h-4zM507 107h6v1h-6zM513 106h8v1h-8zM521 105h8v1h-8zM529 104h6v1h-6zM535 103h4v1h-4zM539 102h4v1h-4zM543 101h4v1h-4zM547 100h4v1h-4zM551 99h4v1h-4zM555 98h4v1h-4zM559 97h4v1h-4zM563 96h4v1h-4zM567 95h4v1h-4zM571 94h4v1h-4zM575 93h2v1h-2zM577 92h3v1h-3zM580 91h3v1h-3zM583 90h4v1h-4zM587 89h4v1h-4zM591 88h2v1h-2zM593 87h3v1h-3zM596 86h3v1h-3zM599 85h2v1h-2zM601 84h3v1h-3zM604 83h3v1h-3zM607 82h4v1h-4zM611 81h4v1h-4zM615 80h2v1h-2zM617 79h3v1h-3zM620 78h3v1h-3zM623 77h2v1h-2zM625 76h3v1h-3zM628 75h5v1h-5zM633 74h8v1h-8zM641 73h16v1h-16zM657 74h6v1h-6zM663 75h4v1h-4zM667 76h6v1h-6zM673 77h14v1h-14zM687 78h4v1h-4zM691 79h4v1h-4zM695 80h4v1h-4zM699 81h6v1h-6zM705 82h6v1h-6zM711 83h2v1h-2zM713 84h3v1h-3zM716 85h3v1h-3zM719 86h2v1h-2zM721 87h3v1h-3zM724 88h3v1h-3zM727 89h2v1h-2zM729 90h3v1h-3zM732 91h3v1h-3zM735 92h4v1h-4zM739 93h4v1h-4zM743 94h4v1h-4zM747 95h4v1h-4zM751 96h4v1h-4zM755 97h14v1h-14zM769 98h8v1h-8zM777 99h6v1h-6zM783 100h2v1h-2zM785 101h3v1h-3zM788 102h3v1h-3zM791 103h2v1h-2zM793 104h3v1h-3zM796 105h2v1h-2zM798 106h2v1h-2zM800 107h2v1h-2zM802 108h2v1h-2zM804 109h2v1h-2zM806 110h2v1h-2zM808 111h2v1h-2zM810 112h2v1h-2zM812 113h2v1h-2zM814 114h1v1h-1zM815 115h2v1h-2zM817 116h1v1h-1zM818 117h1v1h-1zM819 118h2v1h-2zM821 119h1v1h-1zM822 120h2v1h-2zM824 121h2v1h-2zM826 122h2v1h-2zM828 123h2v1h-2zM830 124h2v1h-2zM832 125h2v1h-2zM834 126h2v1h-2zM836 127h2v1h-2zM838 128h2v1h-2zM840 129h2v1h-2zM842 130h2v1h-2zM844 131h5v1h-5zM849 132h5v1h-5zM854 133h2v1h-2zM856 134h2v1h-2zM858 135h2v1h-2zM860 136h3v1h-3zM863 137h2v1h-2zM865 138h3v1h-3zM868 139h3v1h-3zM871 140h2v1h-2zM873 141h3v1h-3zM876 142h3v1h-3zM879 143h2v1h-2zM881 144h3v1h-3zM884 145h3v1h-3zM887 146h2v1h-2zM889 147h3v1h-3zM892 148h13v1h-13zM905 149h16v1h-16zM921 150h8v1h-8zM929 149h22v1h-22zM951 150h4v1h-4zM955 151h4v1h-4zM959 152h2v1h-2zM961 153h3v1h-3zM964 154h3v1h-3zM967 155h4v1h-4zM971 156h4v1h-4zM975 157h4v1h-4zM979 158h4v1h-4zM983 159h4v1h-4zM987 160h4v1h-4zM991 161h4v1h-4zM995 162h4v1h-4zM999 163h2v1h-2zM1001 164h3v1h-3zM1004 165h2v1h-2zM1006 166h1v1h-1zM1007 167h2v1h-2zM1009 168h1v1h-1zM1010 169h1v1h-1zM1011 170h2v1h-2zM1013 171h1v1h-1zM1014 172h2v1h-2zM1016 173h1v1h-1zM1017 174h2v1h-2zM1019 175h2v1h-2zM1021 176h1v1h-1zM1022 177h2v1h-2zM1024 178h2v1h-2zM1026 179h2v1h-2zM1028 180h3v1h-3zM1031 181h4v1h-4zM1035 182h4v1h-4zM1039 183h4v1h-4zM1043 184h4v1h-4zM1047 185h4v1h-4zM1051 186h4v1h-4zM1055 187h4v1h-4zM1059 188h12v1h-12zM1071 187h4v1h-4zM1075 186h3v1h-3zM1078 187h2v1h-2zM1080 188h2v1h-2zM1082 189h2v1h-2zM1084 190h3v1h-3zM1087 191h4v1h-4zM1091 192h3v1h-3zM1094 193h1v1h-1zM1095 194h1v1h-1zM1096 195h1v1h-1zM1097 196h2v1h-2zM1099 197h1v1h-1zM1100 198h1v1h-1zM1101 199h1v1h-1zM1102 200h1v1h-1zM1103 201h1v1h-1zM1104 202h1v1h-1zM1105 203h1v1h-1zM1105 204h1v1h-1zM1106 205h1v1h-1zM1107 206h1v1h-1zM1108 207h1v1h-1zM1109 208h1v1h-1zM1110 209h1v1h-1zM1110 210h1v1h-1zM1111 211h1v1h-1zM1112 212h1v1h-1zM1113 213h1v1h-1zM1113 214h1v1h-1zM1114 215h1v1h-1zM1115 216h1v1h-1zM1116 217h1v1h-1zM1116 218h1v1h-1zM1117 219h1v1h-1zM1118 220h1v1h-1zM1119 221h2v1h-2zM1121 222h1v1h-1zM1122 223h1v1h-1zM1123 224h2v1h-2zM1125 225h1v1h-1zM1126 226h1v1h-1zM1126 227h1v1h-1zM1127 228h1v1h-1zM1128 229h1v1h-1zM1129 230h1v1h-1zM1129 231h1v1h-1zM1130 232h1v1h-1zM1131 233h1v1h-1zM1132 234h1v1h-1zM1132 235h1v1h-1zM1133 236h1v1h-1zM1134 237h1v1h-1zM1134 238h1v1h-1zM1135 239h1v1h-1zM1135 240h1v1h-1zM1136 241h1v1h-1zM1136 242h1v1h-1zM1137 243h1v1h-1zM1137 244h1v1h-1zM1138 245h1v1h-1zM1138 246h1v1h-1zM1139 247h1v1h-1zM1139 248h1v1h-1zM1140 249h1v1h-1zM1140 250h1v1h-1zM1141 251h1v1h-1zM1141 252h1v1h-1zM1142 253h1v1h-1zM1142 254h1v1h-1zM1143 255h1v1h-1zM1143 256h1v1h-1zM1144 257h1v1h-1zM1144 258h1v1h-1zM1145 259h1v1h-1zM1145 260h1v1h-1zM1146 261h1v1h-1zM1146 262h1v1h-1zM1147 263h1v1h-1zM1147 264h1v1h-1zM1148 265h1v1h-1zM1148 266h1v1h-1zM1149 267h1v1h-1zM1149 268h1v1h-1zM1149 269h1v1h-1zM1150 270h1v1h-1zM1150 271h1v1h-1zM1151 272h1v1h-1zM1151 273h1v1h-1zM1152 274h1v1h-1zM1152 275h1v1h-1zM1153 276h1v1h-1zM1153 277h1v1h-1zM1154 278h1v1h-1zM1154 279h1v1h-1zM1155 280h1v1h-1zM1155 281h1v1h-1zM1156 282h1v1h-1zM1156 283h1v1h-1zM1157 284h1v1h-1zM1157 285h1v1h-1zM1157 286h1v1h-1zM1158 287h1v1h-1zM1158 288h1v1h-1zM1159 289h1v1h-1zM1159 290h1v1h-1zM1160 291h1v1h-1zM1160 292h1v1h-1zM1161 293h1v1h-1zM1161 294h1v1h-1zM1162 295h1v1h-1zM1162 296h1v1h-1zM1163 297h1v1h-1zM1163 298h1v1h-1zM1164 299h1v1h-1zM1164 300h1v1h-1zM1165 301h1v1h-1zM1165 302h1v1h-1zM1165 303h1v1h-1zM1166 304h1v1h-1zM1166 305h1v1h-1zM1167 306h1v1h-1zM1167 307h1v1h-1zM1167 308h1v1h-1zM1168 309h1v1h-1zM1168 310h1v1h-1zM1169 311h1v1h-1zM1169 312h1v1h-1zM1169 313h1v1h-1zM1170 314h1v1h-1zM1170 315h1v1h-1zM1171 316h1v1h-1zM1171 317h1v1h-1zM1171 318h1v1h-1zM1172 319h1v1h-1zM1172 320h1v1h-1zM1173 321h1v1h-1zM1173 322h1v1h-1zM1173 323h1v1h-1zM1174 324h1v1h-1zM1174 325h1v1h-1zM1175 326h1v1h-1zM1175 327h1v1h-1zM1176 328h1v1h-1zM1176 329h1v1h-1zM1177 330h1v1h-1zM1177 331h1v1h-1zM1178 332h1v1h-1zM1178 333h1v1h-1zM1179 334h1v1h-1zM1179 335h1v1h-1zM1180 336h1v1h-1zM1180 337h1v1h-1zM1181 338h1v1h-1zM1181 339h1v1h-1zM1182 340h1v1h-1zM1182 341h1v1h-1zM1183 342h1v1h-1zM1183 343h1v1h-1zM1184 344h1v1h-1zM1184 345h1v1h-1zM1185 346h1v1h-1zM1186 347h1v1h-1zM1186 348h1v1h-1zM1187 349h1v1h-1zM1187 350h1v1h-1zM1188 351h1v1h-1zM1188 352h1v1h-1zM1189 353h1v1h-1zM1190 354h1v1h-1zM1191 355h1v1h-1zM1191 356h1v1h-1zM1192 357h1v1h-1zM1193 358h1v1h-1zM1194 359h1v1h-1zM1195 360h1v1h-1zM1195 361h1v1h-1zM1196 362h1v1h-1zM1197 363h1v1h-1zM1198 364h1v1h-1zM1199 365h1v1h-1zM1200 366h1v1h-1zM1201 367h1v1h-1zM1201 368h1v1h-1zM1202 369h1v1h-1zM1203 370h1v1h-1zM1204 371h1v1h-1zM1205 372h2v1h-2zM1207 373h4v1h-4zM1211 374h20v1h-20zM1231 375h4v1h-4zM1235 376h4v1h-4zM1239 375h4v1h-4zM1243 374h3v1h-3zM1246 373h2v1h-2zM1248 372h2v1h-2zM1250 371h2v1h-2zM1252 370h3v1h-3zM1255 369h2v1h-2zM1257 368h3v1h-3zM1260 367h2v1h-2z" fill="#ff0000"/>
<path d="M5 143h2v1h-2zM7 142h4v1h-4zM11 141h6v1h-6zM17 140h6v1h-6zM23 139h4v1h-4zM27 138h20v1h-20zM47 137h4v1h-4zM51 136h4v1h-4zM55 135h2v1h-2zM57 134h3v1h-3zM60 133h3v1h-3zM63 132h4v1h-4zM67 131h6v1h-6zM73 130h8v1h-8zM81 129h6v1h-6zM87 128h4v1h-4zM91 127h4v1h-4zM95 126h2v1h-2zM97 125h3v1h-3zM100 124h2v1h-2zM102 123h2v1h-2zM104 122h1v1h-1zM105 121h2v1h-2zM107 120h2v1h-2zM109 119h1v1h-1zM110 118h1v1h-1zM111 117h2v1h-2zM113 116h1v1h-1zM114 115h1v1h-1zM115 114h2v1h-2zM117 113h1v1h-1zM118 112h1v1h-1zM119 111h1v1h-1zM120 110h1v1h-1zM121 109h2v1h-2zM123 108h1v1h-1zM124 107h1v1h-1zM125 106h4v1h-4zM129 105h6v1h-6zM135 106h4v1h-4zM139 107h4v1h-4zM143 108h4v1h-4zM147 109h4v1h-4zM151 110h4v1h-4zM155 111h6v1h-6zM161 112h8v1h-8zM169 111h6v1h-6zM175 110h2v1h-2zM177 109h3v1h-3zM180 108h2v1h-2zM182 107h2v1h-2zM184 106h2v1h-2zM186 105h2v1h-2zM188 104h2v1h-2zM190 103h2v1h-2zM192 102h1v1h-1zM193 101h2v1h-2zM195 100h2v1h-2zM197 99h1v1h-1zM198 98h2v1h-2zM200 97h1v1h-1zM201 96h2v1h-2zM203 95h2v1h-2zM205 94h2v1h-2zM207 93h4v1h-4zM211 92h6v1h-6zM217 91h16v1h-16zM233 92h6v1h-6zM239 93h2v1h-2zM241 94h3v1h-3zM244 95h3v1h-3zM247 96h2v1h-2zM249 97h3v1h-3zM252 98h2v1h-2zM254 99h2v1h-2zM256 100h2v1h-2zM258 101h2v1h-2zM260 102h3v1h-3zM263 103h4v1h-4zM267 104h4v1h-4zM271 105h2v1h-2zM273 106h3v1h-3zM276 107h2v1h-2zM278 108h2v1h-2zM280 109h1v1h-1zM281 110h2v1h-2zM283 111h2v1h-2zM285 112h1v1h-1zM286 113h2v1h-2zM288 114h2v1h-2zM290 115h2v1h-2zM292 116h3v1h-3zM295 117h4v1h-4zM299 118h6v1h-6zM305 119h16v1h-16zM321 118h8v1h-8zM329 119h6v1h-6zM335 120h4v1h-4zM339 121h4v1h-4zM343 122h4v1h-4zM347 123h4v1h-4zM351 124h4v1h-4zM355 125h4v1h-4zM359 126h4v1h-4zM363 127h6v1h-6zM369 128h8v1h-8zM377 129h6v1h-6zM383 130h4v1h-4zM387 131h12v1h-12zM399 130h4v1h-4zM403 129h3v1h-3zM406 128h2v1h-2zM408 127h2v1h-2zM410 126h2v1h-2zM412 125h2v1h-2zM414 124h2v1h-2zM416 123h2v1h-2zM418 122h2v1h-2zM420 121h2v1h-2zM422 120h2v1h-2zM424 119h1v1h-1zM425 118h2v1h-2zM427 117h2v1h-2zM429 116h2v1h-2zM431 115h2v1h-2zM433 114h3v1h-3zM436 113h3v1h-3zM439 112h4v1h-4zM443 111h6v1h-6zM449 112h6v1h-6zM455 113h4v1h-4zM459 114h4v1h-4zM463 113h4v1h-4zM467 112h3v1h-3zM470 111h2v1h-2zM472 110h2v1h-2zM474 109h2v1h-2zM476 108h3v1h-3zM479 107h4v1h-4zM483 106h4v1h-4zM487 105h2v1h-2zM489 104h3v1h-3zM492 103h2v1h-2zM494 102h2v1h-2zM496 101h2v1h-2zM498 100h2v1h-2zM500 99h3v1h-3zM503 98h4v1h-4zM507 97h3v1h-3zM510 98h2v1h-2zM512 99h2v1h-2zM514 100h2v1h-2zM516 101h3v1h-3zM519 100h4v1h-4zM523 99h6v1h-6zM529 98h8v1h-8zM537 97h5v1h-5zM542 96h2v1h-2zM544 95h2v1h-2zM546 94h2v1h-2zM548 93h2v1h-2zM550 92h2v1h-2zM552 91h2v1h-2zM554 90h2v1h-2zM556 89h3v1h-3zM559 88h2v1h-2zM561 87h3v1h-3zM564 86h3v1h-3zM567 85h4v1h-4zM571 84h3v1h-3zM574 83h2v1h-2zM576 82h2v1h-2zM578 81h2v1h-2zM580 80h2v1h-2zM582 79h2v1h-2zM584 78h2v1h-2zM586 77h2v1h-2zM588 76h2v1h-2zM590 75h2v1h-2zM592 74h1v1h-1zM593 73h2v1h-2zM595 72h2v1h-2zM597 71h1v1h-1zM598 70h1v1h-1zM599 69h2v1h-2zM601 68h1v1h-1zM602 67h1v1h-1zM603 66h2v1h-2zM605 65h1v1h-1zM606 64h2v1h-2zM608 63h2v1h-2zM610 62h2v1h-2zM612 61h3v1h-3zM615 60h4v1h-4zM619 59h4v1h-4zM623 60h4v1h-4zM627 61h3v1h-3zM630 62h2v1h-2zM632 63h2v1h-2zM634 64h2v1h-2zM636 65h3v1h-3zM639 66h2v1h-2zM641 67h3v1h-3zM644 68h2v1h-2zM646 69h1v1h-1zM647 70h1v1h-1zM647 71h1v1h-1zM648 72h1v1h-1zM649 73h1v1h-1zM650 74h1v1h-1zM651 75h1v1h-1zM651 76h1v1h-1zM652 77h1v1h-1zM653 78h1v1h-1zM654 79h1v1h-1zM655 80h1v1h-1zM656 81h1v1h-1zM657 82h1v1h-1zM657 83h1v1h-1zM658 84h1v1h-1zM659 85h1v1h-1zM660 86h1v1h-1zM661 87h1v1h-1zM662 88h1v1h-1zM663 89h2v1h-2zM665 90h1v1h-1zM666 91h1v1h-1zM667 92h2v1h-2zM669 93h2v1h-2zM671 94h2v1h-2zM673 95h3v1h-3zM676 96h3v1h-3zM679 97h4v1h-4zM683 98h4v1h-4zM687 97h4v1h-4zM691 96h4v1h-4zM695 95h2v1h-2zM697 94h3v1h-3zM700 93h2v1h-2zM702 92h2v1h-2zM704 91h2v1h-2zM706 90h2v1h-2zM708 89h5v1h-5zM713 90h6v1h-6zM719 91h4v1h-4zM723 92h6v1h-6zM729 93h6v1h-6zM735 94h4v1h-4zM739 95h3v1h-3zM742 96h2v1h-2zM744 97h2v1h-2zM746 98h2v1h-2zM748 99h3v1h-3zM751 100h2v1h-2zM753 101h3v1h-3zM756 102h3v1h-3zM759 103h4v1h-4zM763 104h4v1h-4zM767 105h2v1h-2zM769 106h3v1h-3zM772 107h3v1h-3zM775 108h2v1h-2zM777 109h3v1h-3zM780 110h2v1h-2zM782 111h1v1h-1zM783 112h1v1h-1zM784 113h1v1h-1zM785 114h2v1h-2zM787 115h1v1h-1zM788 116h1v1h-1zM789 117h1v1h-1zM790 118h1v1h-1zM791 119h2v1h-2zM793 120h1v1h-1zM794 121h1v1h-1zM795 122h2v1h-2zM797 123h1v1h-1zM798 124h2v1h-2zM800 125h1v1h-1zM801 126h2v1h-2zM803 127h2v1h-2zM805 128h1v1h-1zM806 129h1v1h-1zM807 130h1v1h-1zM808 131h1v1h-1zM809 132h2v1h-2zM811 133h1v1h-1zM812 134h1v1h-1zM813 135h1v1h-1zM814 136h1v1h-1zM815 137h1v1h-1zM816 138h1v1h-1zM817 139h1v1h-1zM818 140h1v1h-1zM819 141h1v1h-1zM820 142h1v1h-1zM821 143h1v1h-1zM822 144h2v1h-2zM824 145h2v1h-2zM826 146h2v1h-2zM828 147h3v1h-3zM831 148h2v1h-2zM833 149h3v1h-3zM836 150h5v1h-5zM841 151h6v1h-6zM847 150h4v1h-4zM851 149h4v1h-4zM855 148h2v1h-2zM857 147h3v1h-3zM860 146h5v1h-5zM865 147h8v1h-8zM873 148h6v1h-6zM879 149h4v1h-4zM883 150h4v1h-4zM887 151h2v1h-2zM889 152h3v1h-3zM892 153h11v1h-11zM903 152h2v1h-2zM905 151h3v1h-3zM908 150h3v1h-3zM911 149h4v1h-4zM915 148h4v1h-4zM919 147h4v1h-4zM923 146h12v1h-12zM935 147h4v1h-4zM939 148h3v1h-3zM942 149h2v1h-2zM944 150h1v1h-1zM945 151h2v1h-2zM947 152h2v1h-2zM949 153h1v1h-1zM950 154h2v1h-2zM952 155h1v1h-1zM953 156h2v1h-2zM955 157h2v1h-2zM957 158h1v1h-1zM958 159h2v1h-2zM960 160h2v1h-2zM962 161h2v1h-2zM964 162h2v1h-2zM966 163h2v1h-2zM968 164h1v1h-1zM969 165h2v1h-2zM971 166h2v1h-2zM973 167h1v1h-1zM974 168h2v1h-2zM976 169h1v1h-1zM977 170h2v1h-2zM979 171h2v1h-2zM981 172h1v1h-1zM982 173h2v1h-2zM984 174h2v1h-2zM986 175h2v1h-2zM988 176h2v1h-2zM990 177h2v1h-2zM992 178h1v1h-1zM993 179h2v1h-2zM995 180h2v1h-2zM997 181h2v1h-2zM999 182h2v1h-2zM1001 183h3v1h-3zM1004 184h2v1h-2zM1006 185h1v1h-1zM1006 186h1v1h-1zM1007 187h1v1h-1zM1008 188h1v1h-1zM1009 189h1v1h-1zM1009 190h1v1h-1zM1010 191h1v1h-1zM1011 192h1v1h-1zM1012 193h1v1h-1zM1012 194h1v1h-1zM1013 195h1v1h-1zM1014 196h1v1h-1zM1015 197h2v1h-2zM1017 198h1v1h-1zM1018 199h1v1h-1zM1019 200h2v1h-2zM1021 201h1v1h-1zM1022 202h2v1h-2zM1024 203h1v1h-1zM1025 204h2v1h-2zM1027 205h2v1h-2zM1029 206h2v1h-2zM1031 205h2v1h-2zM1033 204h3v1h-3zM1036 203h3v1h-3zM1039 202h2v1h-2zM1041 201h3v1h-3zM1044 200h2v1h-2zM1046 199h1v1h-1zM1047 198h1v1h-1zM1048 197h1v1h-1zM1049 195h1v1h-1zM1049 196h1v1h-1zM1050 194h1v1h-1zM1051 193h1v1h-1zM1052 192h1v1h-1zM1053 191h1v1h-1zM1054 190h1v1h-1zM1055 189h1v1h-1zM1056 188h1v1h-1zM1057 187h1v1h-1zM1058 186h1v1h-1zM1059 185h1v1h-1zM1060 184h1v1h-1zM1061 183h1v1h-1zM1062 182h1v1h-1zM1063 181h2v1h-2zM1065 180h1v1h-1zM1066 179h1v1h-1zM1067 178h2v1h-2zM1069 177h2v1h-2zM1071 176h2v1h-2zM1073 175h3v1h-3zM1076 174h2v1h-2zM1078 175h1v1h-1zM1079 176h1v1h-1zM1080 177h1v1h-1zM1081 178h1v1h-1zM1081 179h1v1h-1zM1082 180h1v1h-1zM1083 181h1v1h-1zM1084 182h1v1h-1zM1085 183h1v1h-1zM1086 184h1v1h-1zM1087 185h2v1h-2zM1089 186h1v1h-1zM1090 187h1v1h-1zM1091 188h2v1h-2zM1093 189h1v1h-1zM1093 190h1v1h-1zM1094 191h1v1h-1zM1094 192h1v1h-1zM1095 193h1v1h-1zM1095 194h1v1h-1zM1096 195h1v1h-1zM1096 196h1v1h-1zM1096 197h1v1h-1zM1097 198h1v1h-1zM1097 199h1v1h-1zM1098 200h1v1h-1zM1098 201h1v1h-1zM1098 202h1v1h-1zM1099 203h1v1h-1zM1099 204h1v1h-1zM1100 205h1v1h-1zM1100 206h1v1h-1zM1101 207h1v1h-1zM1101 208h1v1h-1zM1101 209h1v1h-1zM1102 210h1v1h-1zM1102 211h1v1h-1zM1102 212h1v1h-1zM1102 213h1v1h-1zM1103 214h1v1h-1zM1103 215h1v1h-1zM1103 216h1v1h-1zM1104 217h1v1h-1zM1104 218h1v1h-1zM1104 219h1v1h-1zM1104 220h1v1h-1zM1105 221h1v1h-1zM1105 222h1v1h-1zM1105 223h1v1h-1zM1106 224h1v1h-1zM1106 225h1v1h-1zM1106 226h1v1h-1zM1106 227h1v1h-1zM1107 228h1v1h-1zM1107 229h1v1h-1zM1107 230h1v1h-1zM1108 231h1v1h-1zM1108 232h1v1h-1zM1108 233h1v1h-1zM1108 234h1v1h-1zM1109 235h1v1h-1zM1109 236h1v1h-1zM1109 237h1v1h-1zM1109 238h1v1h-1zM1110 239h1v1h-1zM1110 240h1v1h-1zM1110 241h1v1h-1zM1110 242h1v1h-1zM1111 243h1v1h-1zM1111 244h1v1h-1zM1111 245h1v1h-1zM1111 246h1v1h-1zM1112 247h1v1h-1zM1112 248h1v1h-1zM1112 249h1v1h-1zM1112 250h1v1h-1zM1113 251h1v1h-1zM1113 252h1v1h-1zM1113 253h1v1h-1zM1113 254h1v1h-1zM1113 255h1v1h-1zM1114 256h1v1h-1zM1114 257h1v1h-1zM1114 258h1v1h-1zM1114 259h1v1h-1zM1115 260h1v1h-1zM1115 261h1v1h-1zM1115 262h1v1h-1zM1115 263h1v1h-1zM1116 264h1v1h-1zM1116 265h1v1h-1zM1116 266h1v1h-1zM1116 267h1v1h-1zM1117 268h1v1h-1zM1117 269h1v1h-1zM1117 270h1v1h-1zM1117 271h1v1h-1zM1118 272h1v1h-1zM1118 273h1v1h-1zM1119 274h1v1h-1zM1119 275h1v1h-1zM1119 276h1v1h-1zM1120 277h1v1h-1zM1120 278h1v1h-1zM1121 279h1v1h-1zM1121 280h1v1h-1zM1121 281h1v1h-1zM1122 282h1v1h-1zM1122 283h1v1h-1zM1123 284h1v1h-1zM1123 285h1v1h-1zM1123 286h1v1h-1zM1124 287h1v1h-1zM1124 288h1v1h-1zM1125 289h1v1h-1zM1125 290h1v1h-1zM1125 291h1v1h-1zM1126 292h1v1h-1zM1126 293h1v1h-1zM1126 294h1v1h-1zM1126 295h1v1h-1zM1127 296h1v1h-1zM1127 297h1v1h-1zM1127 298h1v1h-1zM1127 299h1v1h-1zM1128 300h1v1h-1zM1128 301h1v1h-1zM1128 302h1v1h-1zM1128 303h1v1h-1zM1129 304h1v1h-1zM1129 305h1v1h-1zM1129 306h1v1h-1zM1129 307h1v1h-1zM1130 308h1v1h-1zM1130 309h1v1h-1zM1130 310h1v1h-1zM1130 311h1v1h-1zM1131 312h1v1h-1zM1131 313h1v1h-1zM1131 314h1v1h-1zM1131 315h1v1h-1zM1132 316h1v1h-1zM1132 317h1v1h-1zM1132 318h1v1h-1zM1132 319h1v1h-1zM1133 320h1v1h-1zM1133 321h1v1h-1zM1133 322h1v1h-1zM1133 323h1v1h-1zM1134 324h1v1h-1zM1134 325h1v1h-1zM1134 326h1v1h-1zM1134 327h1v1h-1zM1135 328h1v1h-1zM1135 329h1v1h-1zM1135 330h1v1h-1zM1136 331h1v1h-1zM1136 332h1v1h-1zM1136 333h1v1h-1zM1137 334h1v1h-1zM1137 335h1v1h-1zM1137 336h1v1h-1zM1137 337h1v1h-1zM1138 338h1v1h-1zM1138 339h1v1h-1zM1138 340h1v1h-1zM1139 341h1v1h-1zM1139 342h1v1h-1zM1139 343h1v1h-1zM1140 344h1v1h-1zM1140 345h1v1h-1zM1140 346h1v1h-1zM1140 347h1v1h-1zM1141 348h1v1h-1zM1141 349h1v1h-1zM1141 350h1v1h-1zM1142 351h1v1h-1zM1142 352h1v1h-1zM1142 353h1v1h-1zM1143 354h1v1h-1zM1143 355h1v1h-1zM1143 356h1v1h-1zM1144 357h1v1h-1zM1144 358h1v1h-1zM1144 359h1v1h-1zM1145 360h1v1h-1zM1145 361h1v1h-1zM1146 362h1v1h-1zM1146 363h1v1h-1zM1146 364h1v1h-1zM1147 365h1v1h-1zM1147 366h1v1h-1zM1147 367h1v1h-1zM1148 368h1v1h-1zM1148 369h1v1h-1zM1148 370h1v1h-1zM1149 371h1v1h-1zM1149 372h1v1h-1zM1149 373h1v1h-1zM1150 374h1v1h-1zM1150 375h1v1h-1zM1151 376h1v1h-1zM1151 377h1v1h-1zM1152 378h1v1h-1zM1152 379h1v1h-1zM1153 380h1v1h-1zM1153 381h1v1h-1zM1153 382h1v1h-1zM1154 383h1v1h-1zM1154 384h1v1h-1zM1155 385h1v1h-1zM1155 386h1v1h-1zM1156 387h1v1h-1zM1156 388h1v1h-1zM1157 389h1v1h-1zM1157 390h1v1h-1zM1157 391h1v1h-1zM1158 392h1v1h-1zM1158 393h1v1h-1zM1159 394h1v1h-1zM1159 395h1v1h-1zM1160 396h1v1h-1zM1160 397h1v1h-1zM1160 398h1v1h-1zM1161 399h1v1h-1zM1161 400h1v1h-1zM1162 401h1v1h-1zM1162 402h1v1h-1zM1162 403h1v1h-1zM1163 404h1v1h-1zM1163 405h1v1h-1zM1164 406h1v1h-1zM1164 407h1v1h-1zM1165 408h1v1h-1zM1165 409h1v1h-1zM1166 410h1v1h-1zM1166 411h1v1h-1zM1167 412h1v1h-1zM1167 413h1v1h-1zM1168 414h1v1h-1zM1168 415h1v1h-1zM1169 416h1v1h-1zM1169 417h1v1h-1zM1170 418h1v1h-1zM1170 419h1v1h-1zM1171 420h1v1h-1zM1171 421h1v1h-1zM1172 422h1v1h-1zM1172 423h1v1h-1zM1173 424h3v1h-3zM1173 425h1v1h-1zM1176 423h1v1h-1zM1177 422h2v1h-2zM1179 421h2v1h-2zM1181 420h1v1h-1zM1182 419h1v1h-1zM1183 418h1v1h-1zM1184 417h1v1h-1zM1185 416h2v1h-2zM1187 415h1v1h-1zM1188 414h1v1h-1zM1189 413h1v1h-1zM1190 411h1v1h-1zM1190 412h1v1h-1zM1191 409h1v1h-1zM1191 410h1v1h-1zM1192 408h1v1h-1zM1193 406h1v1h-1zM1193 407h1v1h-1zM1194 405h1v1h-1zM1195 403h1v1h-1zM1195 404h1v1h-1zM1196 401h1v1h-1zM1196 402h1v1h-1zM1197 399h1v1h-1zM1197 400h1v1h-1zM1198 397h1v1h-1zM1198 398h1v1h-1zM1199 394h1v1h-1zM1199 395h1v1h-1zM1199 396h1v1h-1zM1200 391h1v1h-1zM1200 392h1v1h-1zM1200 393h1v1h-1zM1201 389h1v1h-1zM1201 390h1v1h-1zM1202 386h1v1h-1zM1202 387h1v1h-1zM1202 388h1v1h-1zM1203 383h1v1h-1zM1203 384h1v1h-1zM1203 385h1v1h-1zM1204 381h1v1h-1zM1204 382h1v1h-1zM1205 378h1v1h-1zM1205 379h1v1h-1zM1205 380h1v1h-1zM1206 375h1v1h-1zM1206 376h1v1h-1zM1206 377h1v1h-1zM1207 372h1v1h-1zM1207 373h1v1h-1zM1207 374h1v1h-1zM1208 369h1v1h-1zM1208 370h1v1h-1zM1208 371h1v1h-1zM1209 366h1v1h-1zM1209 367h1v1h-1zM1209 368h1v1h-1zM1210 363h1v1h-1zM1210 364h1v1h-1zM1210 365h1v1h-1zM1211 360h1v1h-1zM1211 361h1v1h-1zM1211 362h1v1h-1zM1212 357h1v1h-1zM1212 358h1v1h-1zM1212 359h1v1h-1zM1213 355h1v1h-1zM1213 356h1v1h-1zM1214 353h1v1h-1zM1214 354h1v1h-1zM1215 351h1v1h-1zM1215 352h1v1h-1zM1216 349h1v1h-1zM1216 350h1v1h-1zM1217 347h1v1h-1zM1217 348h1v1h-1zM1218 345h1v1h-1zM1218 346h1v1h-1zM1219 343h1v1h-1zM1219 344h1v1h-1zM1220 341h1v1h-1zM1220 342h1v1h-1zM1221 340h1v1h-1zM1222 338h1v1h-1zM1222 339h1v1h-1zM1223 337h1v1h-1zM1224 335h1v1h-1zM1224 336h1v1h-1zM1225 334h1v1h-1zM1226 332h1v1h-1zM1226 333h1v1h-1zM1227 331h1v1h-1zM1228 329h1v1h-1zM1228 330h1v1h-1zM1229 328h1v1h-1zM1230 327h2v1h-2zM1232 326h2v1h-2zM1234 325h2v1h-2zM1236 324h2v1h-2zM1238 325h2v1h-2zM1240 326h1v1h-1zM1241 327h2v1h-2zM1243 328h2v1h-2zM1245 329h1v1h-1zM1246 330h1v1h-1zM1246 331h1v1h-1zM1247 332h1v1h-1zM1248 333h1v1h-1zM1248 334h1v1h-1zM1249 335h1v1h-1zM1250 336h1v1h-1zM1250 337h1v1h-1zM1251 338h1v1h-1zM1252 339h1v1h-1zM1252 340h1v1h-1zM1253 341h1v1h-1zM1254 342h1v1h-1zM1255 343h1v1h-1zM1256 344h1v1h-1zM1257 345h1v1h-1zM1258 346h1v1h-1zM1259 347h1v1h-1zM1260 348h1v1h-1zM1261 349h1v1h-1z" fill="#ffa500"/>
<rect x="4" y="150" width="1594" height="2" fill="#ff0000"/>
<rect x="4" y="212" width="1594" height="2" fill="#ff0000"/>
<rect x="4" y="274" width="1594" height="2" fill="#ff0000"/>
<rect x="4" y="335" width="1594" height="2" fill="#ff0000"/>
<rect x="4" y="397" width="1594" height="2" fill="#00ff00"/>
<rect x="4" y="458" width="1594" height="2" fill="#0000ff"/>
<rect x="4" y="520" width="1594" height="2" fill="#0000ff"/>
</g>
<g shape-rendering="crispEdges">
<rect x="4" y="148" width="6" height="6" fill="#ff0000"/>
<rect x="6" y="150" width="2" height="2" fill="#fff"/>
<rect x="1591" y="148" width="6" height="6" fill="#ff0000"/>
<rect x="1593" y="150" width="2" height="2" fill="#fff"/>
<rect x="1597" y="150" width="1" height="2" fill="#ff0000"/>
<rect x="1599" y="145" width="40" height="11" fill="#ff0000"/>
<rect x="4" y="210" width="6" height="6" fill="#ff0000"/>
<rect x="6" y="212" width="2" height="2" fill="#fff"/>
<rect x="1591" y="210" width="6" height="6" fill="#ff0000"/>
<rect x="1593" y="212" width="2" height="2" fill="#fff"/>
<rect x="1597" y="212" width="1" height="2" fill="#ff0000"/>
<rect x="1599" y="207" width="40" height="11" fill="#ff0000"/>
<rect x="4" y="272" width="6" height="6" fill="#ff0000"/>
<rect x="6" y="274" width="2" height="2" fill="#fff"/>
<rect x="1591" y="272" width="6" height="6" fill="#ff0000"/>
<rect x="1593" y="274" width="2" height="2" fill="#fff"/>
<rect x="1597" y="274" width="1" height="2" fill="#ff0000"/>
<rect x="1599" y="269" width="40" height="11" fill="#ff0000"/>
<rect x="4" y="333" width="6" height="6" fill="#ff0000"/>
<rect x="6" y="335" width="2" height="2" fill="#fff"/>
<rect x="1591" y="333" width="6" height="6" fill="#ff0000"/>
<rect x="1593" y="335" width="2" height="2" fill="#fff"/>
<rect x="1597" y="335" width="1" height="2" fill="#ff0000"/>
<rect x="1599" y="330" width="40" height="11" fill="#ff0000"/>
<rect x="4" y="395" width="6" height="6" fill="#00ff00"/>
<rect x="6" y="397" width="2" height="2" fill="#fff"/>
<rect x="1591" y="395" width="6" height="6" fill="#00ff00"/>
<rect x="1593" y="397" width="2" height="2" fill="#fff"/>
<rect x="1597" y="397" width="1" height="2" fill="#00ff00"/>
<rect x="1599" y="392" width="40" height="11" fill="#00ff00"/>
<rect x="4" y="456" width="6" height="6" fill="#0000ff"/>
<rect x="6" y="458" width="2" height="2" fill="#fff"/>
<rect x="1591" y="456" width="6" height="6" fill="#0000ff"/>
<rect x="1593" y="458" width="2" height="2" fill="#fff"/>
<rect x="1597" y="458" width="1" height="2" fill="#0000ff"/>
<rect x="1599" y="453" width="40" height="11" fill="#0000ff"/>
<rect x="4" y="518" width="6" height="6" fill="#0000ff"/>
<rect x="6" y="520" width="2" height="2" fill="#fff"/>
<rect x="1591" y="518" width="6" height="6" fill="#0000ff"/>
<rect x="1593" y="520" width="2" height="2" fill="#fff"/>
<rect x="1597" y="520" width="1" height="2" fill="#0000ff"/>
<rect x="1599" y="515" width="40" height="11" fill="#0000ff"/>
<rect x="1598" y="369" width="2" height="1" fill="#000"/>
<rect x="1599" y="364" width="40" height="11" fill="#000"/>
<path d="M5 582h4v1h-4zM9 581h5v1h-5zM14 582h2v1h-2zM16 583h1v1h-1zM17 584h2v1h-2zM19 585h2v1h-2zM21 586h2v1h-2zM23 587h4v1h-4zM27 588h6v1h-6zM33 587h5v1h-5zM38 586h1v1h-1zM39 585h1v1h-1zM40 584h1v1h-1zM41 583h2v1h-2zM43 582h1v1h-1zM44 581h1v1h-1zM45 580h1v1h-1zM46 579h2v1h-2zM48 578h1v1h-1zM49 577h2v1h-2zM51 576h2v1h-2zM53 575h4v1h-4zM57 576h5v1h-5zM62 577h2v1h-2zM64 578h2v1h-2zM66 579h2v1h-2zM68 580h3v1h-3zM71 581h4v1h-4zM75 582h6v1h-6zM81 583h5v1h-5zM86 582h1v1h-1zM87 580h1v1h-1zM87 581h1v1h-1zM88 579h1v1h-1zM89 578h1v1h-1zM90 577h1v1h-1zM91 575h1v1h-1zM91 576h1v1h-1zM92 574h1v1h-1zM93 573h2v1h-2zM95 572h2v1h-2zM97 571h3v1h-3zM100 570h3v1h-3zM103 569h4v1h-4zM107 568h20v1h-20zM127 569h2v1h-2zM129 570h3v1h-3zM132 571h2v1h-2zM134 572h2v1h-2zM136 573h1v1h-1zM137 574h2v1h-2zM139 575h2v1h-2zM141 576h4v1h-4zM145 575h6v1h-6zM151 576h4v1h-4zM155 577h4v1h-4zM159 576h2v1h-2zM161 575h3v1h-3zM164 574h3v1h-3zM167 573h2v1h-2zM169 572h3v1h-3zM172 571h3v1h-3zM175 570h4v1h-4zM179 569h4v1h-4zM183 568h4v1h-4zM187 567h4v1h-4zM191 566h2v1h-2zM193 565h3v1h-3zM196 564h5v1h-5zM201 565h8v1h-8zM209 566h6v1h-6zM215 567h4v1h-4zM219 568h6v1h-6zM225 569h8v1h-8zM233 570h5v1h-5zM238 571h1v1h-1zM239 572h1v1h-1zM240 573h1v1h-1zM241 574h2v1h-2zM243 575h1v1h-1zM244 576h1v1h-1zM245 577h4v1h-4zM249 578h6v1h-6zM255 579h4v1h-4zM259 580h6v1h-6zM265 581h6v1h-6zM271 582h2v1h-2zM273 583h3v1h-3zM276 584h2v1h-2zM278 585h1v1h-1zM279 586h1v1h-1zM279 587h1v1h-1zM280 588h1v1h-1zM281 589h1v1h-1zM282 590h1v1h-1zM283 591h1v1h-1zM283 592h1v1h-1zM284 593h1v1h-1zM285 594h1v1h-1zM286 593h1v1h-1zM287 592h1v1h-1zM288 591h1v1h-1zM289 590h1v1h-1zM290 589h1v1h-1zM291 588h1v1h-1zM292 587h1v1h-1zM293 586h2v1h-2zM295 585h4v1h-4zM299 584h12v1h-12zM311 583h4v1h-4zM315 582h3v1h-3zM318 583h2v1h-2zM320 584h2v1h-2zM322 585h2v1h-2zM324 586h5v1h-5zM329 587h6v1h-6zM335 588h4v1h-4zM339 589h6v1h-6zM345 590h6v1h-6zM351 591h4v1h-4zM355 592h3v1h-3zM358 591h2v1h-2zM360 590h2v1h-2zM362 589h2v1h-2zM364 588h5v1h-5zM369 589h6v1h-6zM375 590h2v1h-2zM377 591h3v1h-3zM380 592h18v1h-18zM398 590h1v1h-1zM398 591h1v1h-1zM399 588h1v1h-1zM399 589h1v1h-1zM400 587h1v1h-1zM401 585h1v1h-1zM401 586h1v1h-1zM402 584h1v1h-1zM403 582h1v1h-1zM403 583h1v1h-1zM404 580h1v1h-1zM404 581h1v1h-1zM405 579h1v1h-1zM406 578h2v1h-2zM408 577h1v1h-1zM409 576h2v1h-2zM411 575h2v1h-2zM413 574h1v1h-1zM414 573h2v1h-2zM416 572h2v1h-2zM418 571h2v1h-2zM420 570h2v1h-2zM422 571h1v1h-1zM423 572h1v1h-1zM424 573h1v1h-1zM425 574h2v1h-2zM427 575h1v1h-1zM428 576h1v1h-1zM429 577h4v1h-4zM433 576h6v1h-6zM439 575h4v1h-4zM443 574h4v1h-4zM447 575h4v1h-4zM451 576h3v1h-3zM454 577h2v1h-2zM456 578h1v1h-1zM457 579h2v1h-2zM459 580h2v1h-2zM461 581h1v1h-1zM462 580h1v1h-1zM463 579h1v1h-1zM464 578h1v1h-1zM465 577h1v1h-1zM466 576h1v1h-1zM467 575h1v1h-1zM468 574h1v1h-1zM469 573h1v1h-1zM470 572h1v1h-1zM471 571h2v1h-2zM473 570h1v1h-1zM474 569h1v1h-1zM475 568h2v1h-2zM477 567h1v1h-1zM478 568h2v1h-2zM480 569h2v1h-2zM482 570h2v1h-2zM484 571h5v1h-5zM489 572h5v1h-5zM494 571h2v1h-2zM496 570h2v1h-2zM498 569h2v1h-2zM500 568h2v1h-2zM502 569h1v1h-1zM503 570h1v1h-1zM504 571h1v1h-1zM505 572h1v1h-1zM506 573h1v1h-1zM507 574h1v1h-1zM508 575h1v1h-1zM509 576h4v1h-4zM513 575h6v1h-6zM519 574h4v1h-4zM523 573h4v1h-4zM527 572h2v1h-2zM529 571h3v1h-3zM532 570h11v1h-11zM543 569h4v1h-4zM547 568h6v1h-6zM553 567h8v1h-8zM561 568h6v1h-6zM567 567h2v1h-2zM569 566h3v1h-3zM572 565h2v1h-2zM574 564h2v1h-2zM576 563h2v1h-2zM578 562h2v1h-2zM580 561h5v1h-5zM585 562h6v1h-6zM591 561h4v1h-4zM595 560h4v1h-4zM599 559h4v1h-4zM603 558h4v1h-4zM607 559h4v1h-4zM611 560h4v1h-4zM615 561h2v1h-2zM617 562h3v1h-3zM620 563h2v1h-2zM622 564h1v1h-1zM623 565h1v1h-1zM623 566h1v1h-1zM624 567h1v1h-1zM625 568h1v1h-1zM626 569h1v1h-1zM627 570h1v1h-1zM627 571h1v1h-1zM628 572h1v1h-1zM629 573h4v1h-4zM633 574h5v1h-5zM638 575h2v1h-2zM640 576h2v1h-2zM642 577h2v1h-2zM644 578h2v1h-2zM646 579h1v1h-1zM647 580h1v1h-1zM648 581h1v1h-1zM649 582h1v1h-1zM649 583h1v1h-1zM650 584h1v1h-1zM651 585h1v1h-1zM652 586h1v1h-1zM653 587h2v1h-2zM655 588h4v1h-4zM659 589h11v1h-11zM670 588h1v1h-1zM671 587h1v1h-1zM672 586h1v1h-1zM673 584h1v1h-1zM673 585h1v1h-1zM674 583h1v1h-1zM675 582h1v1h-1zM676 581h1v1h-1zM677 580h20v1h-20zM697 581h8v1h-8zM705 580h6v1h-6zM711 581h4v1h-4zM715 582h4v1h-4zM719 583h2v1h-2zM721 584h3v1h-3zM724 585h11v1h-11zM735 586h4v1h-4zM739 587h6v1h-6zM745 588h5v1h-5zM750 589h2v1h-2zM752 590h2v1h-2zM754 591h2v1h-2zM756 592h3v1h-3zM759 591h4v1h-4zM763 590h4v1h-4zM767 591h2v1h-2zM769 592h3v1h-3zM772 593h10v1h-10zM782 594h1v1h-1zM783 595h1v1h-1zM784 596h1v1h-1zM785 597h2v1h-2zM787 598h1v1h-1zM788 599h1v1h-1zM789 600h2v1h-2zM791 601h4v1h-4zM795 602h4v1h-4zM799 603h4v1h-4zM803 604h4v1h-4zM807 605h4v1h-4zM811 606h6v1h-6zM817 607h16v1h-16zM833 606h5v1h-5zM838 605h1v1h-1zM839 604h1v1h-1zM840 603h1v1h-1zM841 601h1v1h-1zM841 602h1v1h-1zM842 600h1v1h-1zM843 599h1v1h-1zM844 598h1v1h-1zM845 597h1v1h-1zM846 596h2v1h-2zM848 595h1v1h-1zM849 594h2v1h-2zM851 593h2v1h-2zM853 592h4v1h-4zM857 593h5v1h-5zM862 594h1v1h-1zM863 595h2v1h-2zM865 596h1v1h-1zM866 597h1v1h-1zM867 598h2v1h-2zM869 599h4v1h-4zM873 600h8v1h-8zM881 599h5v1h-5zM886 598h1v1h-1zM887 597h1v1h-1zM888 596h1v1h-1zM889 594h1v1h-1zM889 595h1v1h-1zM890 593h1v1h-1zM891 592h1v1h-1zM892 591h1v1h-1zM893 590h1v1h-1zM894 589h2v1h-2zM896 588h1v1h-1zM897 587h2v1h-2zM899 586h2v1h-2zM901 585h4v1h-4zM905 586h6v1h-6zM911 587h4v1h-4zM915 588h6v1h-6zM921 589h8v1h-8zM929 588h6v1h-6zM935 589h2v1h-2zM937 590h3v1h-3zM940 591h3v1h-3zM943 592h2v1h-2zM945 593h3v1h-3zM948 594h2v1h-2zM950 595h1v1h-1zM951 596h2v1h-2zM953 597h1v1h-1zM954 598h1v1h-1zM955 599h2v1h-2zM957 600h2v1h-2zM959 599h4v1h-4zM963 598h12v1h-12zM975 599h4v1h-4zM979 600h4v1h-4zM983 601h4v1h-4zM987 602h3v1h-3zM990 603h2v1h-2zM992 604h2v1h-2zM994 605h2v1h-2zM996 606h2v1h-2zM998 605h2v1h-2zM1000 604h1v1h-1zM1001 603h2v1h-2zM1003 602h2v1h-2zM1005 601h1v1h-1zM1006 602h1v1h-1zM1007 603h1v1h-1zM1008 604h1v1h-1zM1009 605h2v1h-2zM1011 606h1v1h-1zM1012 607h1v1h-1zM1013 608h1v1h-1zM1014 606h1v1h-1zM1014 607h1v1h-1zM1015 605h1v1h-1zM1016 604h1v1h-1zM1017 602h1v1h-1zM1017 603h1v1h-1zM1018 601h1v1h-1zM1019 600h1v1h-1zM1020 598h1v1h-1zM1020 599h1v1h-1zM1021 597h4v1h-4zM1025 596h5v1h-5zM1030 594h1v1h-1zM1030 595h1v1h-1zM1031 592h1v1h-1zM1031 593h1v1h-1zM1032 591h1v1h-1zM1033 589h1v1h-1zM1033 590h1v1h-1zM1034 588h1v1h-1zM1035 586h1v1h-1zM1035 587h1v1h-1zM1036 584h1v1h-1zM1036 585h1v1h-1zM1037 583h4v1h-4zM1041 582h6v1h-6zM1047 583h4v1h-4zM1051 584h4v1h-4zM1055 583h2v1h-2zM1057 582h3v1h-3zM1060 581h5v1h-5zM1065 580h6v1h-6zM1071 579h4v1h-4zM1075 578h3v1h-3zM1078 579h1v1h-1zM1078 580h1v1h-1zM1079 581h1v1h-1zM1079 582h1v1h-1zM1080 583h1v1h-1zM1080 584h1v1h-1zM1081 585h1v1h-1zM1081 586h1v1h-1zM1082 587h1v1h-1zM1082 588h1v1h-1zM1083 589h1v1h-1zM1083 590h1v1h-1zM1084 591h1v1h-1zM1084 592h1v1h-1zM1085 593h3v1h-3zM1085 594h1v1h-1zM1088 592h2v1h-2zM1090 591h2v1h-2zM1092 590h2v1h-2zM1094 591h1v1h-1zM1095 592h1v1h-1zM1095 593h1v1h-1zM1096 594h1v1h-1zM1097 595h1v1h-1zM1098 596h1v1h-1zM1099 597h1v1h-1zM1099 598h1v1h-1zM1100 599h1v1h-1zM1101 600h1v1h-1zM1102 601h2v1h-2zM1104 602h2v1h-2zM1106 603h2v1h-2zM1108 604h13v1h-13zM1121 605h6v1h-6zM1127 606h2v1h-2zM1129 607h3v1h-3zM1132 608h3v1h-3zM1135 609h2v1h-2zM1137 610h3v1h-3zM1140 611h3v1h-3zM1143 610h4v1h-4zM1147 609h22v1h-22zM1169 610h5v1h-5zM1174 608h1v1h-1zM1174 609h1v1h-1zM1175 606h1v1h-1zM1175 607h1v1h-1zM1176 605h1v1h-1zM1177 603h1v1h-1zM1177 604h1v1h-1zM1178 602h1v1h-1zM1179 600h1v1h-1zM1179 601h1v1h-1zM1180 598h1v1h-1zM1180 599h1v1h-1zM1181 597h2v1h-2zM1183 596h2v1h-2zM1185 595h3v1h-3zM1188 594h2v1h-2zM1190 593h1v1h-1zM1191 592h2v1h-2zM1193 591h1v1h-1zM1194 590h1v1h-1zM1195 589h2v1h-2zM1197 588h1v1h-1zM1198 587h2v1h-2zM1200 586h2v1h-2zM1202 585h2v1h-2zM1204 584h2v1h-2zM1206 583h2v1h-2zM1208 582h2v1h-2zM1210 581h2v1h-2zM1212 580h3v1h-3zM1215 581h4v1h-4zM1219 582h6v1h-6zM1225 583h8v1h-8zM1233 584h6v1h-6zM1239 585h2v1h-2zM1241 586h3v1h-3zM1244 587h3v1h-3zM1247 588h4v1h-4zM1251 589h11v1h-11z" fill="#1e90ff"/>
<rect x="5" y="646" width="1" height="5" fill="#c0c0c0"/>
<rect x="13" y="646" width="1" height="5" fill="#c0c0c0"/>
<rect x="21" y="646" width="1" height="5" fill="#c0c0c0"/>
<rect x="29" y="646" width="1" height="5" fill="#c0c0c0"/>
<rect x="37" y="646" width="1" height="5" fill="#c0c0c0"/>
<rect x="45" y="646" width="1" height="5" fill="#c0c0c0"/>
<rect x="53" y="646" width="1" height="4" fill="#c0c0c0"/>
<rect x="61" y="646" width="1" height="3" fill="#c0c0c0"/>
<rect x="69" y="646" width="1" height="2" fill="#c0c0c0"/>
<rect x="77" y="646" width="1" height="2" fill="#c0c0c0"/>
<rect x="85" y="646" width="1" height="1" fill="#c0c0c0"/>
<rect x="101" y="645" width="1" height="2" fill="#c0c0c0"/>
<rect x="109" y="644" width="1" height="3" fill="#c0c0c0"/>
<rect x="117" y="644" width="1" height="3" fill="#c0c0c0"/>
<rect x="125" y="643" width="1" height="4" fill="#c0c0c0"/>
<rect x="133" y="642" width="1" height="5" fill="#c0c0c0"/>
<rect x="141" y="642" width="1" height="5" fill="#c0c0c0"/>
<rect x="149" y="642" width="1" height="5" fill="#c0c0c0"/>
<rect x="157" y="641" width="1" height="6" fill="#c0c0c0"/>
<rect x="165" y="641" width="1" height="6" fill="#c0c0c0"/>
<rect x="173" y="641" width="1" height="6" fill="#c0c0c0"/>
<rect x="181" y="640" width="1" height="7" fill="#c0c0c0"/>
<rect x="189" y="640" width="1" height="7" fill="#c0c0c0"/>
<rect x="197" y="640" width="1" height="7" fill="#c0c0c0"/>
<rect x="205" y="640" width="1" height="7" fill="#c0c0c0"/>
<rect x="213" y="639" width="1" height="8" fill="#c0c0c0"/>
<rect x="221" y="639" width="1" height="8" fill="#c0c0c0"/>
<rect x="229" y="639" width="1" height="8" fill="#c0c0c0"/>
<rect x="237" y="640" width="1" height="7" fill="#c0c0c0"/>
<rect x="245" y="640" width="1" height="7" fill="#c0c0c0"/>
<rect x="253" y="641" width="1" height="6" fill="#c0c0c0"/>
<rect x="261" y="642" width="1" height="5" fill="#c0c0c0"/>
<rect x="269" y="642" width="1" height="5" fill="#c0c0c0"/>
<rect x="277" y="644" width="1" height="3" fill="#c0c0c0"/>
<rect x="285" y="645" width="1" height="2" fill="#c0c0c0"/>
<rect x="309" y="646" width="1" height="1" fill="#c0c0c0"/>
<rect x="317" y="646" width="1" height="1" fill="#c0c0c0"/>
<rect x="325" y="646" width="1" height="2" fill="#c0c0c0"/>
<rect x="333" y="646" width="1" height="3" fill="#c0c0c0"/>
<rect x="341" y="646" width="1" height="4" fill="#c0c0c0"/>
<rect x="349" y="646" width="1" height="4" fill="#c0c0c0"/>
<rect x="357" y="646" width="1" height="4" fill="#c0c0c0"/>
<rect x="365" y="646" width="1" height="4" fill="#c0c0c0"/>
<rect x="373" y="646" width="1" height="5" fill="#c0c0c0"/>
<rect x="381" y="646" width="1" height="5" fill="#c0c0c0"/>
<rect x="389" y="646" width="1" height="5" fill="#c0c0c0"/>
<rect x="397" y="646" width="1" height="5" fill="#c0c0c0"/>
<rect x="405" y="646" width="1" height="5" fill="#c0c0c0"/>
<rect x="413" y="646" width="1" height="4" fill="#c0c0c0"/>
<rect x="421" y="646" width="1" height="2" fill="#c0c0c0"/>
<rect x="429" y="646" width="1" height="1" fill="#c0c0c0"/>
<rect x="477" y="644" width="1" height="3" fill="#c0c0c0"/>
<rect x="485" y="644" width="1" height="3" fill="#c0c0c0"/>
<rect x="493" y="643" width="1" height="4" fill="#c0c0c0"/>
<rect x="501" y="642" width="1" height="5" fill="#c0c0c0"/>
<rect x="509" y="642" width="1" height="5" fill="#c0c0c0"/>
<rect x="517" y="643" width="1" height="4" fill="#c0c0c0"/>
<rect x="525" y="642" width="1" height="5" fill="#c0c0c0"/>
<rect x="533" y="642" width="1" height="5" fill="#c0c0c0"/>
<rect x="541" y="642" width="1" height="5" fill="#c0c0c0"/>
<rect x="549" y="641" width="1" height="6" fill="#c0c0c0"/>
<rect x="557" y="640" width="1" height="7" fill="#c0c0c0"/>
<rect x="565" y="640" width="1" height="7" fill="#c0c0c0"/>
<rect x="573" y="639" width="1" height="8" fill="#c0c0c0"/>
<rect x="581" y="638" width="1" height="9" fill="#c0c0c0"/>
<rect x="589" y="637" width="1" height="10" fill="#c0c0c0"/>
<rect x="597" y="636" width="1" height="11" fill="#c0c0c0"/>
<rect x="605" y="634" width="1" height="13" fill="#c0c0c0"/>
<rect x="613" y="634" width="1" height="13" fill="#c0c0c0"/>
<rect x="621" y="634" width="1" height="13" fill="#c0c0c0"/>
<rect x="629" y="635" width="1" height="12" fill="#c0c0c0"/>
<rect x="637" y="636" width="1" height="11" fill="#c0c0c0"/>
<rect x="645" y="636" width="1" height="11" fill="#c0c0c0"/>
<rect x="653" y="640" width="1" height="7" fill="#c0c0c0"/>
<rect x="661" y="643" width="1" height="4" fill="#c0c0c0"/>
<rect x="669" y="645" width="1" height="2" fill="#c0c0c0"/>
<rect x="725" y="646" width="1" height="1" fill="#c0c0c0"/>
<rect x="733" y="646" width="1" height="1" fill="#c0c0c0"/>
<rect x="741" y="646" width="1" height="2" fill="#c0c0c0"/>
<rect x="749" y="646" width="1" height="2" fill="#c0c0c0"/>
<rect x="757" y="646" width="1" height="3" fill="#c0c0c0"/>
<rect x="765" y="646" width="1" height="4" fill="#c0c0c0"/>
<rect x="773" y="646" width="1" height="4" fill="#c0c0c0"/>
<rect x="781" y="646" width="1" height="6" fill="#c0c0c0"/>
<rect x="789" y="646" width="1" height="8" fill="#c0c0c0"/>
<rect x="797" y="646" width="1" height="10" fill="#c0c0c0"/>
<rect x="805" y="646" width="1" height="10" fill="#c0c0c0"/>
<rect x="813" y="646" width="1" height="13" fill="#c0c0c0"/>
<rect x="821" y="646" width="1" height="15" fill="#c0c0c0"/>
<rect x="829" y="646" width="1" height="16" fill="#c0c0c0"/>
<rect x="837" y="646" width="1" height="17" fill="#c0c0c0"/>
<rect x="845" y="646" width="1" height="15" fill="#c0c0c0"/>
<rect x="853" y="646" width="1" height="14" fill="#c0c0c0"/>
<rect x="861" y="646" width="1" height="14" fill="#c0c0c0"/>
<rect x="869" y="646" width="1" height="14" fill="#c0c0c0"/>
<rect x="877" y="646" width="1" height="15" fill="#c0c0c0"/>
<rect x="885" y="646" width="1" height="15" fill="#c0c0c0"/>
<rect x="893" y="646" width="1" height="14" fill="#c0c0c0"/>
<rect x="901" y="646" width="1" height="12" fill="#c0c0c0"/>
<rect x="909" y="646" width="1" height="12" fill="#c0c0c0"/>
<rect x="917" y="646" width="1" height="11" fill="#c0c0c0"/>
<rect x="925" y="646" width="1" height="10" fill="#c0c0c0"/>
<rect x="933" y="646" width="1" height="10" fill="#c0c0c0"/>
<rect x="941" y="646" width="1" height="10" fill="#c0c0c0"/>
<rect x="949" y="646" width="1" height="10" fill="#c0c0c0"/>
<rect x="957" y="646" width="1" height="11" fill="#c0c0c0"/>
<rect x="965" y="646" width="1" height="11" fill="#c0c0c0"/>
<rect x="973" y="646" width="1" height="11" fill="#c0c0c0"/>
<rect x="981" y="646" width="1" height="12" fill="#c0c0c0"/>
<rect x="989" y="646" width="1" height="13" fill="#c0c0c0"/>
<rect x="997" y="646" width="1" height="16" fill="#c0c0c0"/>
<rect x="1005" y="646" width="1" height="16" fill="#c0c0c0"/>
<rect x="1013" y="646" width="1" height="19" fill="#c0c0c0"/>
<rect x="1021" y="646" width="1" height="20" fill="#c0c0c0"/>
<rect x="1029" y="646" width="1" height="20" fill="#c0c0c0"/>
<rect x="1037" y="646" width="1" height="17" fill="#c0c0c0"/>
<rect x="1045" y="646" width="1" height="15" fill="#c0c0c0"/>
<rect x="1053" y="646" width="1" height="13" fill="#c0c0c0"/>
<rect x="1061" y="646" width="1" height="11" fill="#c0c0c0"/>
<rect x="1069" y="646" width="1" height="10" fill="#c0c0c0"/>
<rect x="1077" y="646" width="1" height="8" fill="#c0c0c0"/>
<rect x="1085" y="646" width="1" height="11" fill="#c0c0c0"/>
<rect x="1093" y="646" width="1" height="11" fill="#c0c0c0"/>
<rect x="1101" y="646" width="1" height="19" fill="#c0c0c0"/>
<rect x="1109" y="646" width="1" height="25" fill="#c0c0c0"/>
<rect x="1117" y="646" width="1" height="31" fill="#c0c0c0"/>
<rect x="1125" y="646" width="1" height="36" fill="#c0c0c0"/>
<rect x="1133" y="646" width="1" height="43" fill="#c0c0c0"/>
<rect x="1141" y="646" width="1" height="52" fill="#c0c0c0"/>
<rect x="1149" y="646" width="1" height="58" fill="#c0c0c0"/>
<rect x="1157" y="646" width="1" height="62" fill="#c0c0c0"/>
<rect x="1165" y="646" width="1" height="64" fill="#c0c0c0"/>
<rect x="1173" y="646" width="1" height="68" fill="#c0c0c0"/>
<rect x="1181" y="646" width="1" height="66" fill="#c0c0c0"/>
<rect x="1189" y="646" width="1" height="62" fill="#c0c0c0"/>
<rect x="1197" y="646" width="1" height="56" fill="#c0c0c0"/>
<rect x="1205" y="646" width="1" height="49" fill="#c0c0c0"/>
<rect x="1213" y="646" width="1" height="41" fill="#c0c0c0"/>
<rect x="1221" y="646" width="1" height="36" fill="#c0c0c0"/>
<rect x="1229" y="646" width="1" height="32" fill="#c0c0c0"/>
<rect x="1237" y="646" width="1" height="29" fill="#c0c0c0"/>
<rect x="1245" y="646" width="1" height="28" fill="#c0c0c0"/>
<rect x="1253" y="646" width="1" height="28" fill="#c0c0c0"/>
<rect x="1261" y="646" width="1" height="28" fill="#c0c0c0"/>
<path d="M5 652h3v1h-3zM11 652h3v1h-3zM17 653h3v1h-3zM23 653h3v1h-3zM29 653h3v1h-3zM35 653h3v1h-3zM41 653h3v1h-3zM47 653h2v1h-2zM49 652h1v1h-1zM53 652h3v1h-3zM59 652h3v1h-3zM65 651h3v1h-3zM71 651h3v1h-3zM77 651h3v1h-3zM83 650h3v1h-3zM89 649h3v1h-3zM95 649h3v1h-3zM101 649h3v1h-3zM107 648h3v1h-3zM113 647h3v1h-3zM119 647h3v1h-3zM125 647h3v1h-3zM131 646h3v1h-3zM137 645h2v1h-2zM139 644h1v1h-1zM143 644h3v1h-3zM149 644h3v1h-3zM155 643h3v1h-3zM161 642h3v1h-3zM167 642h3v1h-3zM173 642h3v1h-3zM179 641h3v1h-3zM185 641h3v1h-3zM191 641h3v1h-3zM197 641h3v1h-3zM203 640h3v1h-3zM209 640h3v1h-3zM215 640h3v1h-3zM221 640h3v1h-3zM227 639h3v1h-3zM233 638h3v1h-3zM239 638h3v1h-3zM245 638h3v1h-3zM251 638h3v1h-3zM257 638h3v1h-3zM263 638h2v1h-2zM265 639h1v1h-1zM269 639h3v1h-3zM275 640h3v1h-3zM281 640h3v1h-3zM287 640h2v1h-2zM289 641h1v1h-1zM293 641h3v1h-3zM299 642h3v1h-3zM305 643h3v1h-3zM311 643h2v1h-2zM313 644h1v1h-1zM317 644h2v1h-2zM319 645h1v1h-1zM323 646h3v1h-3zM329 647h3v1h-3zM335 647h2v1h-2zM337 648h1v1h-1zM341 648h3v1h-3zM347 648h3v1h-3zM353 649h3v1h-3zM359 649h3v1h-3zM365 649h3v1h-3zM371 650h3v1h-3zM377 650h3v1h-3zM383 650h2v1h-2zM385 651h1v1h-1zM389 651h3v1h-3zM395 651h3v1h-3zM401 652h3v1h-3zM407 652h2v1h-2zM409 651h1v1h-1zM413 651h3v1h-3zM419 651h3v1h-3zM425 651h3v1h-3zM431 651h2v1h-2zM433 650h1v1h-1zM437 650h3v1h-3zM443 649h3v1h-3zM449 649h3v1h-3zM455 649h2v1h-2zM457 648h1v1h-1zM461 648h3v1h-3zM467 648h3v1h-3zM473 647h3v1h-3zM479 647h2v1h-2zM481 646h1v1h-1zM485 646h3v1h-3zM491 645h3v1h-3zM497 644h3v1h-3zM503 644h3v1h-3zM509 644h3v1h-3zM515 644h3v1h-3zM521 643h3v1h-3zM527 643h3v1h-3zM533 643h3v1h-3zM539 642h3v1h-3zM545 642h3v1h-3zM551 642h2v1h-2zM553 641h1v1h-1zM557 641h3v1h-3zM563 641h3v1h-3zM569 641h3v1h-3zM575 641h2v1h-2zM577 640h1v1h-1zM581 640h3v1h-3zM587 639h3v1h-3zM593 638h3v1h-3zM599 638h2v1h-2zM601 637h1v1h-1zM605 637h3v1h-3zM611 637h3v1h-3zM617 636h3v1h-3zM623 636h3v1h-3zM629 636h3v1h-3zM635 635h3v1h-3zM641 635h3v1h-3zM647 635h2v1h-2zM649 636h1v1h-1zM653 636h3v1h-3zM659 636h3v1h-3zM665 637h3v1h-3zM671 637h2v1h-2zM673 638h1v1h-1zM677 638h3v1h-3zM683 639h3v1h-3zM689 640h2v1h-2zM691 641h1v1h-1zM695 641h2v1h-2zM697 642h1v1h-1zM701 642h3v1h-3zM707 643h3v1h-3zM713 644h3v1h-3zM719 644h2v1h-2zM721 645h1v1h-1zM725 645h3v1h-3zM731 646h3v1h-3zM737 647h3v1h-3zM743 647h3v1h-3zM749 647h3v1h-3zM755 647h3v1h-3zM761 648h3v1h-3zM767 648h3v1h-3zM773 648h3v1h-3zM779 649h3v1h-3zM785 650h3v1h-3zM791 650h2v1h-2zM793 651h1v1h-1zM797 651h3v1h-3zM803 652h3v1h-3zM809 653h2v1h-2zM811 654h1v1h-1zM815 654h2v1h-2zM817 655h1v1h-1zM821 655h3v1h-3zM827 656h3v1h-3zM833 657h3v1h-3zM839 657h2v1h-2zM841 658h1v1h-1zM845 658h3v1h-3zM851 659h3v1h-3zM857 660h3v1h-3zM863 660h2v1h-2zM865 661h1v1h-1zM869 661h3v1h-3zM875 661h3v1h-3zM881 661h3v1h-3zM887 661h3v1h-3zM893 661h3v1h-3zM899 661h3v1h-3zM905 661h3v1h-3zM911 661h2v1h-2zM913 660h1v1h-1zM917 660h3v1h-3zM923 660h3v1h-3zM929 659h3v1h-3zM935 659h2v1h-2zM937 658h1v1h-1zM941 658h3v1h-3zM947 658h3v1h-3zM953 657h3v1h-3zM959 657h3v1h-3zM965 657h3v1h-3zM971 657h3v1h-3zM977 658h3v1h-3zM983 658h3v1h-3zM989 658h3v1h-3zM995 659h3v1h-3zM1001 659h3v1h-3zM1007 659h2v1h-2zM1009 660h1v1h-1zM1013 660h3v1h-3zM1019 661h3v1h-3zM1025 662h3v1h-3zM1031 662h2v1h-2zM1033 663h1v1h-1zM1037 663h3v1h-3zM1043 663h3v1h-3zM1049 663h3v1h-3zM1055 663h3v1h-3zM1061 663h3v1h-3zM1067 662h3v1h-3zM1073 662h3v1h-3zM1079 662h2v1h-2zM1081 661h1v1h-1zM1085 661h3v1h-3zM1091 660h3v1h-3zM1097 660h3v1h-3zM1103 660h3v1h-3zM1109 660h2v1h-2zM1111 661h1v1h-1zM1115 662h3v1h-3zM1121 664h1v1h-1zM1122 665h2v1h-2zM1127 667h3v1h-3zM1133 668h1v1h-1zM1134 669h2v1h-2zM1139 672h2v1h-2zM1141 673h1v1h-1zM1145 676h1v1h-1zM1146 677h1v1h-1zM1147 678h1v1h-1zM1151 680h1v1h-1zM1152 681h1v1h-1zM1153 682h1v1h-1zM1157 684h1v1h-1zM1158 685h2v1h-2zM1163 688h2v1h-2zM1165 689h1v1h-1zM1169 692h1v1h-1zM1170 693h1v1h-1zM1171 694h1v1h-1zM1175 696h1v1h-1zM1176 697h2v1h-2zM1181 699h1v1h-1zM1182 700h2v1h-2zM1187 702h1v1h-1zM1188 703h2v1h-2zM1193 704h2v1h-2zM1195 705h1v1h-1zM1199 705h2v1h-2zM1201 706h1v1h-1zM1205 706h3v1h-3zM1211 705h3v1h-3zM1217 704h2v1h-2zM1219 703h1v1h-1zM1223 702h1v1h-1zM1224 701h2v1h-2zM1229 699h2v1h-2zM1231 698h1v1h-1zM1235 697h1v1h-1zM1236 696h2v1h-2zM1241 694h1v1h-1zM1242 693h2v1h-2zM1247 691h1v1h-1zM1248 690h2v1h-2zM1253 688h1v1h-1zM1254 687h2v1h-2zM1259 684h2v1h-2zM1261 683h1v1h-1z" fill="#ff0000"/>
<rect x="0" y="740" width="1639" height="1" fill="#e3e3e3"/>
<rect x="0" y="741" width="1639" height="1" fill="#fff"/>
<rect x="0" y="742" width="1639" height="1" fill="#000"/>
<rect x="0" y="743" width="1639" height="1" fill="#fff"/>
<rect x="0" y="744" width="1639" height="18" fill="#f0f0f0"/>
<rect x="0" y="762" width="1639" height="1" fill="#fff"/>
<rect x="0" y="763" width="1639" height="2" fill="#f0f0f0"/>
<rect x="0" y="743" width="1" height="19" fill="#a0a0a0"/>
<rect x="1" y="743" width="1" height="18" fill="#696969"/>
<rect x="2" y="744" width="1" height="17" fill="#fff"/>
<rect x="211" y="741" width="102" height="19" fill="#fff"/>
<rect x="209" y="743" width="1" height="18" fill="#fff"/>
<rect x="314" y="743" width="1" height="18" fill="#fff"/>
<rect x="209" y="761" width="106" height="1" fill="#fff"/>
<rect x="210" y="742" width="1" height="19" fill="#000"/>
<rect x="313" y="742" width="1" height="19" fill="#000"/>
<rect x="210" y="760" width="104" height="1" fill="#000"/>
<rect x="110" y="745" width="1" height="14" fill="#5a5a5a"/>
<rect x="418" y="745" width="1" height="14" fill="#5a5a5a"/>
<rect x="522" y="745" width="1" height="14" fill="#5a5a5a"/>
<rect x="626" y="745" width="1" height="14" fill="#5a5a5a"/>
<rect x="718" y="745" width="1" height="14" fill="#5a5a5a"/>
<rect x="810" y="745" width="1" height="14" fill="#5a5a5a"/>
<rect x="882" y="745" width="1" height="14" fill="#5a5a5a"/>
<rect x="962" y="745" width="1" height="14" fill="#5a5a5a"/>
<rect x="1042" y="745" width="1" height="14" fill="#5a5a5a"/>
<rect x="1122" y="745" width="1" height="14" fill="#5a5a5a"/>
<rect x="1198" y="745" width="1" height="14" fill="#5a5a5a"/>
<rect x="1270" y="745" width="1" height="14" fill="#5a5a5a"/>
<rect x="1354" y="745" width="1" height="14" fill="#5a5a5a"/>
<rect x="1613" y="751" width="1" height="1" fill="#a0a0a0"/>
<rect x="1635" y="751" width="1" height="1" fill="#a0a0a0"/>
<rect x="1614" y="750" width="1" height="3" fill="#a0a0a0"/>
<rect x="1634" y="750" width="1" height="3" fill="#a0a0a0"/>
<rect x="1615" y="749" width="1" height="5" fill="#a0a0a0"/>
<rect x="1633" y="749" width="1" height="5" fill="#a0a0a0"/>
<rect x="1616" y="748" width="1" height="7" fill="#a0a0a0"/>
<rect x="1632" y="748" width="1" height="7" fill="#a0a0a0"/>
</g>
<path d="M8 32h7l-3.5 4z" fill="#000" shape-rendering="crispEdges"/>
<text x="20.3" y="37" textLength="65.5" lengthAdjust="spacingAndGlyphs">AUDUSD,Daily</text>
<text x="92" y="37" textLength="32.6" lengthAdjust="spacingAndGlyphs">0.59990</text>
<text x="127.8" y="37" textLength="32.6" lengthAdjust="spacingAndGlyphs">0.60047</text>
<text x="163.8" y="37" textLength="32.6" lengthAdjust="spacingAndGlyphs">0.59883</text>
<text x="200" y="37" textLength="32.6" lengthAdjust="spacingAndGlyphs">0.59965</text>
<g class="tb">
<text x="45" y="12.6" textLength="12" lengthAdjust="spacingAndGlyphs">M1</text>
<text x="73" y="12.6" textLength="12" lengthAdjust="spacingAndGlyphs">M5</text>
<text x="98" y="12.6" textLength="18" lengthAdjust="spacingAndGlyphs">M15</text>
<text x="127" y="12.6" textLength="17" lengthAdjust="spacingAndGlyphs">M30</text>
<text x="157.5" y="12.6" textLength="11.5" lengthAdjust="spacingAndGlyphs">H1</text>
<text x="185" y="12.6" textLength="12" lengthAdjust="spacingAndGlyphs">H4</text>
<text x="213.5" y="12.6" textLength="11.5" lengthAdjust="spacingAndGlyphs">D1</text>
<text x="241" y="12.6" textLength="14" lengthAdjust="spacingAndGlyphs">W1</text>
<text x="268" y="12.6" textLength="14.5" lengthAdjust="spacingAndGlyphs">MN</text>
</g>
<g>
<text x="1603" y="37" textLength="33.2" lengthAdjust="spacingAndGlyphs">0.70870</text>
<text x="1603" y="70" textLength="33.2" lengthAdjust="spacingAndGlyphs">0.69790</text>
<text x="1603" y="103" textLength="33.2" lengthAdjust="spacingAndGlyphs">0.68710</text>
<text x="1603" y="136" textLength="33.2" lengthAdjust="spacingAndGlyphs">0.67660</text>
<text x="1603" y="169" textLength="33.2" lengthAdjust="spacingAndGlyphs">0.66580</text>
<text x="1603" y="202" textLength="33.2" lengthAdjust="spacingAndGlyphs">0.65500</text>
<text x="1603" y="235" textLength="33.2" lengthAdjust="spacingAndGlyphs">0.64420</text>
<text x="1603" y="268" textLength="33.2" lengthAdjust="spacingAndGlyphs">0.63370</text>
<text x="1603" y="301" textLength="33.2" lengthAdjust="spacingAndGlyphs">0.62290</text>
<text x="1603" y="334" textLength="33.2" lengthAdjust="spacingAndGlyphs">0.61210</text>
<text x="1603" y="367" textLength="33.2" lengthAdjust="spacingAndGlyphs">0.60130</text>
<text x="1603" y="400" textLength="33.2" lengthAdjust="spacingAndGlyphs">0.59080</text>
<text x="1603" y="433" textLength="33.2" lengthAdjust="spacingAndGlyphs">0.58000</text>
<text x="1603" y="466" textLength="33.2" lengthAdjust="spacingAndGlyphs">0.56920</text>
<text x="1603" y="499" textLength="33.2" lengthAdjust="spacingAndGlyphs">0.55840</text>
<text x="1603" y="532" textLength="33.2" lengthAdjust="spacingAndGlyphs">0.54790</text>
</g>
<g shape-rendering="crispEdges">
<rect x="1599" y="145" width="40" height="11" fill="#ff0000"/>
<rect x="1599" y="207" width="40" height="11" fill="#ff0000"/>
<rect x="1599" y="269" width="40" height="11" fill="#ff0000"/>
<rect x="1599" y="330" width="40" height="11" fill="#ff0000"/>
<rect x="1599" y="392" width="40" height="11" fill="#00ff00"/>
<rect x="1599" y="453" width="40" height="11" fill="#0000ff"/>
<rect x="1599" y="515" width="40" height="11" fill="#0000ff"/>
<rect x="1599" y="364" width="40" height="11" fill="#000"/>
</g>
<g class="w">
<text x="1603" y="154" textLength="33.8" lengthAdjust="spacingAndGlyphs">0.67026</text>
<text x="1603" y="216" textLength="33.8" lengthAdjust="spacingAndGlyphs">0.65015</text>
<text x="1603" y="278" textLength="33.8" lengthAdjust="spacingAndGlyphs">0.63003</text>
<text x="1603" y="339" textLength="33.8" lengthAdjust="spacingAndGlyphs">0.61017</text>
<text x="1603" y="401" textLength="33.8" lengthAdjust="spacingAndGlyphs">0.58994</text>
<text x="1603" y="462" textLength="33.8" lengthAdjust="spacingAndGlyphs">0.57008</text>
<text x="1603" y="524" textLength="33.8" lengthAdjust="spacingAndGlyphs">0.55021</text>
<text x="1603" y="373" textLength="33.8" lengthAdjust="spacingAndGlyphs">0.59965</text>
</g>
<text x="9" y="546" textLength="68" lengthAdjust="spacingAndGlyphs">RSI(14) 38.9075</text>
<text x="9.5" y="640" textLength="153" lengthAdjust="spacingAndGlyphs">MACD(12,26,9) -0.009043 -0.012108</text>
<text x="1601.5" y="544.3" textLength="14" lengthAdjust="spacingAndGlyphs">100</text>
<text x="1601.5" y="565" textLength="9" lengthAdjust="spacingAndGlyphs">70</text>
<text x="1601.5" y="601" textLength="9" lengthAdjust="spacingAndGlyphs">30</text>
<text x="1601.5" y="621.5" textLength="4.5" lengthAdjust="spacingAndGlyphs">0</text>
<text x="1601.5" y="638" textLength="37.5" lengthAdjust="spacingAndGlyphs">0.005923</text>
<text x="1601.5" y="650" textLength="17.5" lengthAdjust="spacingAndGlyphs">0.00</text>
<text x="1601" y="715.5" textLength="41" lengthAdjust="spacingAndGlyphs">-0.023944</text>
<text x="4.2" y="732" textLength="46" lengthAdjust="spacingAndGlyphs">4 Oct 2019</text>
<text x="68.2" y="732" textLength="50.5" lengthAdjust="spacingAndGlyphs">14 Oct 2019</text>
<text x="132.2" y="732" textLength="50.8" lengthAdjust="spacingAndGlyphs">23 Oct 2019</text>
<text x="196.2" y="732" textLength="48" lengthAdjust="spacingAndGlyphs">1 Nov 2019</text>
<text x="260.2" y="732" textLength="52.9" lengthAdjust="spacingAndGlyphs">11 Nov 2019</text>
<text x="324.2" y="732" textLength="53.2" lengthAdjust="spacingAndGlyphs">20 Nov 2019</text>
<text x="388.2" y="732" textLength="53.6" lengthAdjust="spacingAndGlyphs">29 Nov 2019</text>
<text x="452.2" y="732" textLength="47" lengthAdjust="spacingAndGlyphs">9 Dec 2019</text>
<text x="516.2" y="732" textLength="51.6" lengthAdjust="spacingAndGlyphs">18 Dec 2019</text>
<text x="580.2" y="732" textLength="51.6" lengthAdjust="spacingAndGlyphs">27 Dec 2019</text>
<text x="644.2" y="732" textLength="44.8" lengthAdjust="spacingAndGlyphs">6 Jan 2020</text>
<text x="708.2" y="732" textLength="49.4" lengthAdjust="spacingAndGlyphs">15 Jan 2020</text>
<text x="772.2" y="732" textLength="49.4" lengthAdjust="spacingAndGlyphs">24 Jan 2020</text>
<text x="836.2" y="732" textLength="46.7" lengthAdjust="spacingAndGlyphs">3 Feb 2020</text>
<text x="900.2" y="732" textLength="51" lengthAdjust="spacingAndGlyphs">12 Feb 2020</text>
<text x="964.2" y="732" textLength="51.6" lengthAdjust="spacingAndGlyphs">21 Feb 2020</text>
<text x="1028.2" y="732" textLength="46.7" lengthAdjust="spacingAndGlyphs">2 Mar 2020</text>
<text x="1092.2" y="732" textLength="51.6" lengthAdjust="spacingAndGlyphs">11 Mar 2020</text>
<text x="1156.2" y="732" textLength="51.9" lengthAdjust="spacingAndGlyphs">20 Mar 2020</text>
<text x="1220.2" y="732" textLength="51.3" lengthAdjust="spacingAndGlyphs">30 Mar 2020</text>
<g class="tab">
<text x="18.7" y="757" textLength="79" lengthAdjust="spacingAndGlyphs">EURUSD,Daily</text>
<text x="120.5" y="757" textLength="79" lengthAdjust="spacingAndGlyphs">USDCHF,Daily</text>
<text x="221.6" y="757" textLength="81.4" lengthAdjust="spacingAndGlyphs" class="act">AUDUSD,Daily</text>
<text x="325.5" y="757" textLength="81" lengthAdjust="spacingAndGlyphs">USDCAD,Daily</text>
<text x="428.2" y="757" textLength="83" lengthAdjust="spacingAndGlyphs">USDCNH,Daily</text>
<text x="534" y="757" textLength="80" lengthAdjust="spacingAndGlyphs">EURUSD,Daily</text>
<text x="638.3" y="757" textLength="67.4" lengthAdjust="spacingAndGlyphs">GBPUSD,H4</text>
<text x="729.3" y="757" textLength="68" lengthAdjust="spacingAndGlyphs">XAUUSD,H1</text>
<text x="821.3" y="757" textLength="49.2" lengthAdjust="spacingAndGlyphs">HK50,H1</text>
<text x="893.6" y="757" textLength="56.4" lengthAdjust="spacingAndGlyphs">UK100,H1</text>
<text x="973.5" y="757" textLength="56" lengthAdjust="spacingAndGlyphs">UK100,H1</text>
<text x="1053.3" y="757" textLength="56.4" lengthAdjust="spacingAndGlyphs">GER30,H1</text>
<text x="1132.5" y="757" textLength="54" lengthAdjust="spacingAndGlyphs">FRA40,H1</text>
<text x="1208" y="757" textLength="51" lengthAdjust="spacingAndGlyphs">USOil,H1</text>
<text x="1280" y="757" textLength="62.4" lengthAdjust="spacingAndGlyphs">USDJPY,H1</text>
</g>
</svg></body></html>
